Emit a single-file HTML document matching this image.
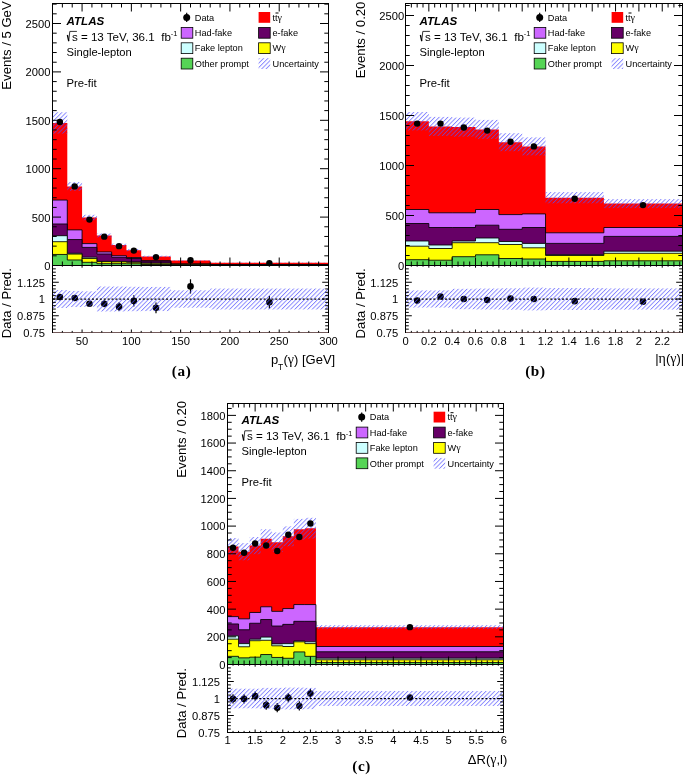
<!DOCTYPE html>
<html><head><meta charset="utf-8"><title>ATLAS ttgamma</title>
<style>
html,body{margin:0;padding:0;background:#fff;}
body{width:685px;height:775px;overflow:hidden;font-family:"Liberation Sans",sans-serif;}
svg{display:block;will-change:transform;}
</style></head><body>
<svg width="685" height="775" viewBox="0 0 685 775"><defs>
<pattern id="hatch" patternUnits="userSpaceOnUse" width="3.07" height="3.07" patternTransform="rotate(45)">
<line x1="0.5" y1="0" x2="0.5" y2="3.07" stroke="#5050ff" stroke-width="0.65"/>
</pattern>
</defs>
<path d="M52.5,265.5 L52.5,122.91 L67.29,122.91 L67.29,186.41 L82.07,186.41 L82.07,217.49 L96.86,217.49 L96.86,235.4 L111.64,235.4 L111.64,245.08 L126.43,245.08 L126.43,250.21 L141.21,250.21 L141.21,256.4 L170.79,256.4 L170.79,260.56 L210.21,260.56 L210.21,262.79 L328.5,262.79 L328.5,265.5Z" fill="#ff0000" stroke="none"/>
<path d="M52.5,265.5 L52.5,200.06 L67.29,200.06 L67.29,229.88 L82.07,229.88 L82.07,243.62 L96.86,243.62 L96.86,251.95 L111.64,251.95 L111.64,255.72 L126.43,255.72 L126.43,257.56 L141.21,257.56 L141.21,260.76 L170.79,260.76 L170.79,263.95 L210.21,263.95 L210.21,264.73 L328.5,264.73 L328.5,265.5Z" fill="#cc66ff" stroke="none"/>
<path d="M52.5,265.5 L52.5,200.06 L67.29,200.06 L67.29,229.88 L82.07,229.88 L82.07,243.62 L96.86,243.62 L96.86,251.95 L111.64,251.95 L111.64,255.72 L126.43,255.72 L126.43,257.56 L141.21,257.56 L141.21,260.76 L170.79,260.76 L170.79,263.95 L210.21,263.95 L210.21,264.73 L328.5,264.73 L328.5,265.5" fill="none" stroke="#000" stroke-width="0.85"/>
<path d="M52.5,265.5 L52.5,223.97 L67.29,223.97 L67.29,239.56 L82.07,239.56 L82.07,247.4 L96.86,247.4 L96.86,253.98 L111.64,253.98 L111.64,257.27 L126.43,257.27 L126.43,258.53 L141.21,258.53 L141.21,261.05 L170.79,261.05 L170.79,264.14 L210.21,264.14 L210.21,264.82 L328.5,264.82 L328.5,265.5Z" fill="#660066" stroke="none"/>
<path d="M52.5,265.5 L52.5,223.97 L67.29,223.97 L67.29,239.56 L82.07,239.56 L82.07,247.4 L96.86,247.4 L96.86,253.98 L111.64,253.98 L111.64,257.27 L126.43,257.27 L126.43,258.53 L141.21,258.53 L141.21,261.05 L170.79,261.05 L170.79,264.14 L210.21,264.14 L210.21,264.82 L328.5,264.82 L328.5,265.5" fill="none" stroke="#000" stroke-width="0.85"/>
<path d="M52.5,265.5 L52.5,235.69 L67.29,235.69 L67.29,253.3 L82.07,253.3 L82.07,257.18 L96.86,257.18 L96.86,261.34 L111.64,261.34 L111.64,261.53 L126.43,261.53 L126.43,262.02 L141.21,262.02 L141.21,263.08 L170.79,263.08 L170.79,264.73 L210.21,264.73 L210.21,265.11 L328.5,265.11 L328.5,265.5Z" fill="#ccffff" stroke="none"/>
<path d="M52.5,265.5 L52.5,235.69 L67.29,235.69 L67.29,253.3 L82.07,253.3 L82.07,257.18 L96.86,257.18 L96.86,261.34 L111.64,261.34 L111.64,261.53 L126.43,261.53 L126.43,262.02 L141.21,262.02 L141.21,263.08 L170.79,263.08 L170.79,264.73 L210.21,264.73 L210.21,265.11 L328.5,265.11 L328.5,265.5" fill="none" stroke="#000" stroke-width="0.85"/>
<path d="M52.5,265.5 L52.5,241.69 L67.29,241.69 L67.29,254.08 L82.07,254.08 L82.07,258.53 L96.86,258.53 L96.86,261.63 L111.64,261.63 L111.64,261.82 L126.43,261.82 L126.43,262.31 L141.21,262.31 L141.21,263.27 L170.79,263.27 L170.79,264.82 L210.21,264.82 L210.21,265.21 L328.5,265.21 L328.5,265.5Z" fill="#ffff00" stroke="none"/>
<path d="M52.5,265.5 L52.5,241.69 L67.29,241.69 L67.29,254.08 L82.07,254.08 L82.07,258.53 L96.86,258.53 L96.86,261.63 L111.64,261.63 L111.64,261.82 L126.43,261.82 L126.43,262.31 L141.21,262.31 L141.21,263.27 L170.79,263.27 L170.79,264.82 L210.21,264.82 L210.21,265.21 L328.5,265.21 L328.5,265.5" fill="none" stroke="#000" stroke-width="0.85"/>
<path d="M52.5,265.5 L52.5,254.46 L67.29,254.46 L67.29,259.98 L82.07,259.98 L82.07,262.31 L96.86,262.31 L96.86,263.66 L111.64,263.66 L111.64,263.66 L126.43,263.66 L126.43,263.76 L141.21,263.76 L141.21,264.53 L170.79,264.53 L170.79,265.21 L210.21,265.21 L210.21,265.4 L328.5,265.4 L328.5,265.5Z" fill="#55d455" stroke="none"/>
<path d="M52.5,265.5 L52.5,254.46 L67.29,254.46 L67.29,259.98 L82.07,259.98 L82.07,262.31 L96.86,262.31 L96.86,263.66 L111.64,263.66 L111.64,263.66 L126.43,263.66 L126.43,263.76 L141.21,263.76 L141.21,264.53 L170.79,264.53 L170.79,265.21 L210.21,265.21 L210.21,265.4 L328.5,265.4 L328.5,265.5" fill="none" stroke="#000" stroke-width="0.85"/>
<rect x="52.5" y="112.27" width="14.79" height="21.3" fill="url(#hatch)"/>
<rect x="67.29" y="182.06" width="14.79" height="8.71" fill="url(#hatch)"/>
<rect x="82.07" y="214.78" width="14.79" height="5.42" fill="url(#hatch)"/>
<rect x="96.86" y="233.46" width="14.79" height="3.87" fill="url(#hatch)"/>
<rect x="111.64" y="243.62" width="14.79" height="2.9" fill="url(#hatch)"/>
<rect x="126.43" y="249.04" width="14.79" height="2.32" fill="url(#hatch)"/>
<rect x="141.21" y="255.72" width="29.57" height="1.36" fill="url(#hatch)"/>
<rect x="170.79" y="260.18" width="39.43" height="0.77" fill="url(#hatch)"/>
<rect x="210.21" y="262.6" width="118.29" height="0.39" fill="url(#hatch)"/>
<circle cx="59.89" cy="122.04" r="3.2" fill="#000"/>
<circle cx="74.68" cy="186.41" r="3.2" fill="#000"/>
<circle cx="89.46" cy="219.62" r="3.2" fill="#000"/>
<circle cx="104.25" cy="236.65" r="3.2" fill="#000"/>
<circle cx="119.04" cy="246.14" r="3.2" fill="#000"/>
<circle cx="133.82" cy="250.59" r="3.2" fill="#000"/>
<circle cx="156" cy="257.08" r="3.2" fill="#000"/>
<circle cx="190.5" cy="260.27" r="3.2" fill="#000"/>
<circle cx="269.36" cy="263.08" r="3.2" fill="#000"/>
<line x1="59.89" y1="295.52" x2="59.89" y2="298.73" stroke="#000" stroke-width="1.2"/>
<circle cx="59.89" cy="297.12" r="3.3" fill="#000"/>
<line x1="74.68" y1="295.92" x2="74.68" y2="300.21" stroke="#000" stroke-width="1.2"/>
<circle cx="74.68" cy="298.06" r="3.3" fill="#000"/>
<line x1="89.46" y1="301.14" x2="89.46" y2="306.5" stroke="#000" stroke-width="1.2"/>
<circle cx="89.46" cy="303.82" r="3.3" fill="#000"/>
<line x1="104.25" y1="300.34" x2="104.25" y2="307.31" stroke="#000" stroke-width="1.2"/>
<circle cx="104.25" cy="303.82" r="3.3" fill="#000"/>
<line x1="119.04" y1="302.35" x2="119.04" y2="310.93" stroke="#000" stroke-width="1.2"/>
<circle cx="119.04" cy="306.64" r="3.3" fill="#000"/>
<line x1="133.82" y1="295.25" x2="133.82" y2="306.5" stroke="#000" stroke-width="1.2"/>
<circle cx="133.82" cy="300.88" r="3.3" fill="#000"/>
<line x1="156" y1="302.48" x2="156" y2="313.2" stroke="#000" stroke-width="1.2"/>
<circle cx="156" cy="307.84" r="3.3" fill="#000"/>
<line x1="190.5" y1="279.3" x2="190.5" y2="293.51" stroke="#000" stroke-width="1.2"/>
<circle cx="190.5" cy="286.4" r="3.3" fill="#000"/>
<line x1="269.36" y1="296.05" x2="269.36" y2="308.38" stroke="#000" stroke-width="1.2"/>
<circle cx="269.36" cy="302.22" r="3.3" fill="#000"/>
<rect x="52.5" y="290.02" width="14.79" height="17.96" fill="url(#hatch)"/>
<rect x="67.29" y="290.96" width="14.79" height="16.08" fill="url(#hatch)"/>
<rect x="82.07" y="291.36" width="14.79" height="15.28" fill="url(#hatch)"/>
<rect x="96.86" y="286.54" width="14.79" height="24.92" fill="url(#hatch)"/>
<rect x="111.64" y="286.54" width="14.79" height="24.92" fill="url(#hatch)"/>
<rect x="126.43" y="286.81" width="14.79" height="24.39" fill="url(#hatch)"/>
<rect x="141.21" y="286.94" width="29.57" height="24.12" fill="url(#hatch)"/>
<rect x="170.79" y="290.29" width="39.43" height="17.42" fill="url(#hatch)"/>
<rect x="210.21" y="288.55" width="118.29" height="20.9" fill="url(#hatch)"/>
<rect x="52.5" y="3.5" width="276" height="262" fill="none" stroke="#000" stroke-width="1"/>
<rect x="52.5" y="265.5" width="276" height="67" fill="none" stroke="#000" stroke-width="1"/>
<line x1="53" y1="332.5" x2="328" y2="332.5" stroke="#735a5a" stroke-width="1"/>
<line x1="62.36" y1="3.5" x2="62.36" y2="7.5" stroke="#000" stroke-width="1"/>
<line x1="62.36" y1="265.5" x2="62.36" y2="261.5" stroke="#000" stroke-width="1"/>
<line x1="62.36" y1="332.5" x2="62.36" y2="330.9" stroke="#000" stroke-width="1"/>
<line x1="62.36" y1="265.5" x2="62.36" y2="266.7" stroke="#000" stroke-width="1"/>
<line x1="72.21" y1="3.5" x2="72.21" y2="7.5" stroke="#000" stroke-width="1"/>
<line x1="72.21" y1="265.5" x2="72.21" y2="261.5" stroke="#000" stroke-width="1"/>
<line x1="72.21" y1="332.5" x2="72.21" y2="330.9" stroke="#000" stroke-width="1"/>
<line x1="72.21" y1="265.5" x2="72.21" y2="266.7" stroke="#000" stroke-width="1"/>
<line x1="82.07" y1="3.5" x2="82.07" y2="11.5" stroke="#000" stroke-width="1"/>
<line x1="82.07" y1="265.5" x2="82.07" y2="257.5" stroke="#000" stroke-width="1"/>
<line x1="82.07" y1="332.5" x2="82.07" y2="329.5" stroke="#000" stroke-width="1"/>
<line x1="82.07" y1="265.5" x2="82.07" y2="267.7" stroke="#000" stroke-width="1"/>
<line x1="91.93" y1="3.5" x2="91.93" y2="7.5" stroke="#000" stroke-width="1"/>
<line x1="91.93" y1="265.5" x2="91.93" y2="261.5" stroke="#000" stroke-width="1"/>
<line x1="91.93" y1="332.5" x2="91.93" y2="330.9" stroke="#000" stroke-width="1"/>
<line x1="91.93" y1="265.5" x2="91.93" y2="266.7" stroke="#000" stroke-width="1"/>
<line x1="101.79" y1="3.5" x2="101.79" y2="7.5" stroke="#000" stroke-width="1"/>
<line x1="101.79" y1="265.5" x2="101.79" y2="261.5" stroke="#000" stroke-width="1"/>
<line x1="101.79" y1="332.5" x2="101.79" y2="330.9" stroke="#000" stroke-width="1"/>
<line x1="101.79" y1="265.5" x2="101.79" y2="266.7" stroke="#000" stroke-width="1"/>
<line x1="111.64" y1="3.5" x2="111.64" y2="7.5" stroke="#000" stroke-width="1"/>
<line x1="111.64" y1="265.5" x2="111.64" y2="261.5" stroke="#000" stroke-width="1"/>
<line x1="111.64" y1="332.5" x2="111.64" y2="330.9" stroke="#000" stroke-width="1"/>
<line x1="111.64" y1="265.5" x2="111.64" y2="266.7" stroke="#000" stroke-width="1"/>
<line x1="121.5" y1="3.5" x2="121.5" y2="7.5" stroke="#000" stroke-width="1"/>
<line x1="121.5" y1="265.5" x2="121.5" y2="261.5" stroke="#000" stroke-width="1"/>
<line x1="121.5" y1="332.5" x2="121.5" y2="330.9" stroke="#000" stroke-width="1"/>
<line x1="121.5" y1="265.5" x2="121.5" y2="266.7" stroke="#000" stroke-width="1"/>
<line x1="131.36" y1="3.5" x2="131.36" y2="11.5" stroke="#000" stroke-width="1"/>
<line x1="131.36" y1="265.5" x2="131.36" y2="257.5" stroke="#000" stroke-width="1"/>
<line x1="131.36" y1="332.5" x2="131.36" y2="329.5" stroke="#000" stroke-width="1"/>
<line x1="131.36" y1="265.5" x2="131.36" y2="267.7" stroke="#000" stroke-width="1"/>
<line x1="141.21" y1="3.5" x2="141.21" y2="7.5" stroke="#000" stroke-width="1"/>
<line x1="141.21" y1="265.5" x2="141.21" y2="261.5" stroke="#000" stroke-width="1"/>
<line x1="141.21" y1="332.5" x2="141.21" y2="330.9" stroke="#000" stroke-width="1"/>
<line x1="141.21" y1="265.5" x2="141.21" y2="266.7" stroke="#000" stroke-width="1"/>
<line x1="151.07" y1="3.5" x2="151.07" y2="7.5" stroke="#000" stroke-width="1"/>
<line x1="151.07" y1="265.5" x2="151.07" y2="261.5" stroke="#000" stroke-width="1"/>
<line x1="151.07" y1="332.5" x2="151.07" y2="330.9" stroke="#000" stroke-width="1"/>
<line x1="151.07" y1="265.5" x2="151.07" y2="266.7" stroke="#000" stroke-width="1"/>
<line x1="160.93" y1="3.5" x2="160.93" y2="7.5" stroke="#000" stroke-width="1"/>
<line x1="160.93" y1="265.5" x2="160.93" y2="261.5" stroke="#000" stroke-width="1"/>
<line x1="160.93" y1="332.5" x2="160.93" y2="330.9" stroke="#000" stroke-width="1"/>
<line x1="160.93" y1="265.5" x2="160.93" y2="266.7" stroke="#000" stroke-width="1"/>
<line x1="170.79" y1="3.5" x2="170.79" y2="7.5" stroke="#000" stroke-width="1"/>
<line x1="170.79" y1="265.5" x2="170.79" y2="261.5" stroke="#000" stroke-width="1"/>
<line x1="170.79" y1="332.5" x2="170.79" y2="330.9" stroke="#000" stroke-width="1"/>
<line x1="170.79" y1="265.5" x2="170.79" y2="266.7" stroke="#000" stroke-width="1"/>
<line x1="180.64" y1="3.5" x2="180.64" y2="11.5" stroke="#000" stroke-width="1"/>
<line x1="180.64" y1="265.5" x2="180.64" y2="257.5" stroke="#000" stroke-width="1"/>
<line x1="180.64" y1="332.5" x2="180.64" y2="329.5" stroke="#000" stroke-width="1"/>
<line x1="180.64" y1="265.5" x2="180.64" y2="267.7" stroke="#000" stroke-width="1"/>
<line x1="190.5" y1="3.5" x2="190.5" y2="7.5" stroke="#000" stroke-width="1"/>
<line x1="190.5" y1="265.5" x2="190.5" y2="261.5" stroke="#000" stroke-width="1"/>
<line x1="190.5" y1="332.5" x2="190.5" y2="330.9" stroke="#000" stroke-width="1"/>
<line x1="190.5" y1="265.5" x2="190.5" y2="266.7" stroke="#000" stroke-width="1"/>
<line x1="200.36" y1="3.5" x2="200.36" y2="7.5" stroke="#000" stroke-width="1"/>
<line x1="200.36" y1="265.5" x2="200.36" y2="261.5" stroke="#000" stroke-width="1"/>
<line x1="200.36" y1="332.5" x2="200.36" y2="330.9" stroke="#000" stroke-width="1"/>
<line x1="200.36" y1="265.5" x2="200.36" y2="266.7" stroke="#000" stroke-width="1"/>
<line x1="210.21" y1="3.5" x2="210.21" y2="7.5" stroke="#000" stroke-width="1"/>
<line x1="210.21" y1="265.5" x2="210.21" y2="261.5" stroke="#000" stroke-width="1"/>
<line x1="210.21" y1="332.5" x2="210.21" y2="330.9" stroke="#000" stroke-width="1"/>
<line x1="210.21" y1="265.5" x2="210.21" y2="266.7" stroke="#000" stroke-width="1"/>
<line x1="220.07" y1="3.5" x2="220.07" y2="7.5" stroke="#000" stroke-width="1"/>
<line x1="220.07" y1="265.5" x2="220.07" y2="261.5" stroke="#000" stroke-width="1"/>
<line x1="220.07" y1="332.5" x2="220.07" y2="330.9" stroke="#000" stroke-width="1"/>
<line x1="220.07" y1="265.5" x2="220.07" y2="266.7" stroke="#000" stroke-width="1"/>
<line x1="229.93" y1="3.5" x2="229.93" y2="11.5" stroke="#000" stroke-width="1"/>
<line x1="229.93" y1="265.5" x2="229.93" y2="257.5" stroke="#000" stroke-width="1"/>
<line x1="229.93" y1="332.5" x2="229.93" y2="329.5" stroke="#000" stroke-width="1"/>
<line x1="229.93" y1="265.5" x2="229.93" y2="267.7" stroke="#000" stroke-width="1"/>
<line x1="239.79" y1="3.5" x2="239.79" y2="7.5" stroke="#000" stroke-width="1"/>
<line x1="239.79" y1="265.5" x2="239.79" y2="261.5" stroke="#000" stroke-width="1"/>
<line x1="239.79" y1="332.5" x2="239.79" y2="330.9" stroke="#000" stroke-width="1"/>
<line x1="239.79" y1="265.5" x2="239.79" y2="266.7" stroke="#000" stroke-width="1"/>
<line x1="249.64" y1="3.5" x2="249.64" y2="7.5" stroke="#000" stroke-width="1"/>
<line x1="249.64" y1="265.5" x2="249.64" y2="261.5" stroke="#000" stroke-width="1"/>
<line x1="249.64" y1="332.5" x2="249.64" y2="330.9" stroke="#000" stroke-width="1"/>
<line x1="249.64" y1="265.5" x2="249.64" y2="266.7" stroke="#000" stroke-width="1"/>
<line x1="259.5" y1="3.5" x2="259.5" y2="7.5" stroke="#000" stroke-width="1"/>
<line x1="259.5" y1="265.5" x2="259.5" y2="261.5" stroke="#000" stroke-width="1"/>
<line x1="259.5" y1="332.5" x2="259.5" y2="330.9" stroke="#000" stroke-width="1"/>
<line x1="259.5" y1="265.5" x2="259.5" y2="266.7" stroke="#000" stroke-width="1"/>
<line x1="269.36" y1="3.5" x2="269.36" y2="7.5" stroke="#000" stroke-width="1"/>
<line x1="269.36" y1="265.5" x2="269.36" y2="261.5" stroke="#000" stroke-width="1"/>
<line x1="269.36" y1="332.5" x2="269.36" y2="330.9" stroke="#000" stroke-width="1"/>
<line x1="269.36" y1="265.5" x2="269.36" y2="266.7" stroke="#000" stroke-width="1"/>
<line x1="279.21" y1="3.5" x2="279.21" y2="11.5" stroke="#000" stroke-width="1"/>
<line x1="279.21" y1="265.5" x2="279.21" y2="257.5" stroke="#000" stroke-width="1"/>
<line x1="279.21" y1="332.5" x2="279.21" y2="329.5" stroke="#000" stroke-width="1"/>
<line x1="279.21" y1="265.5" x2="279.21" y2="267.7" stroke="#000" stroke-width="1"/>
<line x1="289.07" y1="3.5" x2="289.07" y2="7.5" stroke="#000" stroke-width="1"/>
<line x1="289.07" y1="265.5" x2="289.07" y2="261.5" stroke="#000" stroke-width="1"/>
<line x1="289.07" y1="332.5" x2="289.07" y2="330.9" stroke="#000" stroke-width="1"/>
<line x1="289.07" y1="265.5" x2="289.07" y2="266.7" stroke="#000" stroke-width="1"/>
<line x1="298.93" y1="3.5" x2="298.93" y2="7.5" stroke="#000" stroke-width="1"/>
<line x1="298.93" y1="265.5" x2="298.93" y2="261.5" stroke="#000" stroke-width="1"/>
<line x1="298.93" y1="332.5" x2="298.93" y2="330.9" stroke="#000" stroke-width="1"/>
<line x1="298.93" y1="265.5" x2="298.93" y2="266.7" stroke="#000" stroke-width="1"/>
<line x1="308.79" y1="3.5" x2="308.79" y2="7.5" stroke="#000" stroke-width="1"/>
<line x1="308.79" y1="265.5" x2="308.79" y2="261.5" stroke="#000" stroke-width="1"/>
<line x1="308.79" y1="332.5" x2="308.79" y2="330.9" stroke="#000" stroke-width="1"/>
<line x1="308.79" y1="265.5" x2="308.79" y2="266.7" stroke="#000" stroke-width="1"/>
<line x1="318.64" y1="3.5" x2="318.64" y2="7.5" stroke="#000" stroke-width="1"/>
<line x1="318.64" y1="265.5" x2="318.64" y2="261.5" stroke="#000" stroke-width="1"/>
<line x1="318.64" y1="332.5" x2="318.64" y2="330.9" stroke="#000" stroke-width="1"/>
<line x1="318.64" y1="265.5" x2="318.64" y2="266.7" stroke="#000" stroke-width="1"/>
<line x1="52.5" y1="255.82" x2="56.7" y2="255.82" stroke="#000" stroke-width="1"/>
<line x1="328.5" y1="255.82" x2="324.3" y2="255.82" stroke="#000" stroke-width="1"/>
<line x1="52.5" y1="246.14" x2="56.7" y2="246.14" stroke="#000" stroke-width="1"/>
<line x1="328.5" y1="246.14" x2="324.3" y2="246.14" stroke="#000" stroke-width="1"/>
<line x1="52.5" y1="236.46" x2="56.7" y2="236.46" stroke="#000" stroke-width="1"/>
<line x1="328.5" y1="236.46" x2="324.3" y2="236.46" stroke="#000" stroke-width="1"/>
<line x1="52.5" y1="226.78" x2="56.7" y2="226.78" stroke="#000" stroke-width="1"/>
<line x1="328.5" y1="226.78" x2="324.3" y2="226.78" stroke="#000" stroke-width="1"/>
<line x1="52.5" y1="217.1" x2="61" y2="217.1" stroke="#000" stroke-width="1"/>
<line x1="328.5" y1="217.1" x2="320" y2="217.1" stroke="#000" stroke-width="1"/>
<line x1="52.5" y1="207.42" x2="56.7" y2="207.42" stroke="#000" stroke-width="1"/>
<line x1="328.5" y1="207.42" x2="324.3" y2="207.42" stroke="#000" stroke-width="1"/>
<line x1="52.5" y1="197.74" x2="56.7" y2="197.74" stroke="#000" stroke-width="1"/>
<line x1="328.5" y1="197.74" x2="324.3" y2="197.74" stroke="#000" stroke-width="1"/>
<line x1="52.5" y1="188.06" x2="56.7" y2="188.06" stroke="#000" stroke-width="1"/>
<line x1="328.5" y1="188.06" x2="324.3" y2="188.06" stroke="#000" stroke-width="1"/>
<line x1="52.5" y1="178.38" x2="56.7" y2="178.38" stroke="#000" stroke-width="1"/>
<line x1="328.5" y1="178.38" x2="324.3" y2="178.38" stroke="#000" stroke-width="1"/>
<line x1="52.5" y1="168.7" x2="61" y2="168.7" stroke="#000" stroke-width="1"/>
<line x1="328.5" y1="168.7" x2="320" y2="168.7" stroke="#000" stroke-width="1"/>
<line x1="52.5" y1="159.02" x2="56.7" y2="159.02" stroke="#000" stroke-width="1"/>
<line x1="328.5" y1="159.02" x2="324.3" y2="159.02" stroke="#000" stroke-width="1"/>
<line x1="52.5" y1="149.34" x2="56.7" y2="149.34" stroke="#000" stroke-width="1"/>
<line x1="328.5" y1="149.34" x2="324.3" y2="149.34" stroke="#000" stroke-width="1"/>
<line x1="52.5" y1="139.66" x2="56.7" y2="139.66" stroke="#000" stroke-width="1"/>
<line x1="328.5" y1="139.66" x2="324.3" y2="139.66" stroke="#000" stroke-width="1"/>
<line x1="52.5" y1="129.98" x2="56.7" y2="129.98" stroke="#000" stroke-width="1"/>
<line x1="328.5" y1="129.98" x2="324.3" y2="129.98" stroke="#000" stroke-width="1"/>
<line x1="52.5" y1="120.3" x2="61" y2="120.3" stroke="#000" stroke-width="1"/>
<line x1="328.5" y1="120.3" x2="320" y2="120.3" stroke="#000" stroke-width="1"/>
<line x1="52.5" y1="110.62" x2="56.7" y2="110.62" stroke="#000" stroke-width="1"/>
<line x1="328.5" y1="110.62" x2="324.3" y2="110.62" stroke="#000" stroke-width="1"/>
<line x1="52.5" y1="100.94" x2="56.7" y2="100.94" stroke="#000" stroke-width="1"/>
<line x1="328.5" y1="100.94" x2="324.3" y2="100.94" stroke="#000" stroke-width="1"/>
<line x1="52.5" y1="91.26" x2="56.7" y2="91.26" stroke="#000" stroke-width="1"/>
<line x1="328.5" y1="91.26" x2="324.3" y2="91.26" stroke="#000" stroke-width="1"/>
<line x1="52.5" y1="81.58" x2="56.7" y2="81.58" stroke="#000" stroke-width="1"/>
<line x1="328.5" y1="81.58" x2="324.3" y2="81.58" stroke="#000" stroke-width="1"/>
<line x1="52.5" y1="71.9" x2="61" y2="71.9" stroke="#000" stroke-width="1"/>
<line x1="328.5" y1="71.9" x2="320" y2="71.9" stroke="#000" stroke-width="1"/>
<line x1="52.5" y1="62.22" x2="56.7" y2="62.22" stroke="#000" stroke-width="1"/>
<line x1="328.5" y1="62.22" x2="324.3" y2="62.22" stroke="#000" stroke-width="1"/>
<line x1="52.5" y1="52.54" x2="56.7" y2="52.54" stroke="#000" stroke-width="1"/>
<line x1="328.5" y1="52.54" x2="324.3" y2="52.54" stroke="#000" stroke-width="1"/>
<line x1="52.5" y1="42.86" x2="56.7" y2="42.86" stroke="#000" stroke-width="1"/>
<line x1="328.5" y1="42.86" x2="324.3" y2="42.86" stroke="#000" stroke-width="1"/>
<line x1="52.5" y1="33.18" x2="56.7" y2="33.18" stroke="#000" stroke-width="1"/>
<line x1="328.5" y1="33.18" x2="324.3" y2="33.18" stroke="#000" stroke-width="1"/>
<line x1="52.5" y1="23.5" x2="61" y2="23.5" stroke="#000" stroke-width="1"/>
<line x1="328.5" y1="23.5" x2="320" y2="23.5" stroke="#000" stroke-width="1"/>
<line x1="52.5" y1="13.82" x2="56.7" y2="13.82" stroke="#000" stroke-width="1"/>
<line x1="328.5" y1="13.82" x2="324.3" y2="13.82" stroke="#000" stroke-width="1"/>
<line x1="52.5" y1="4.14" x2="56.7" y2="4.14" stroke="#000" stroke-width="1"/>
<line x1="328.5" y1="4.14" x2="324.3" y2="4.14" stroke="#000" stroke-width="1"/>
<line x1="52.5" y1="329.15" x2="55.8" y2="329.15" stroke="#000" stroke-width="1"/>
<line x1="328.5" y1="329.15" x2="325.2" y2="329.15" stroke="#000" stroke-width="1"/>
<line x1="52.5" y1="325.8" x2="55.8" y2="325.8" stroke="#000" stroke-width="1"/>
<line x1="328.5" y1="325.8" x2="325.2" y2="325.8" stroke="#000" stroke-width="1"/>
<line x1="52.5" y1="322.45" x2="55.8" y2="322.45" stroke="#000" stroke-width="1"/>
<line x1="328.5" y1="322.45" x2="325.2" y2="322.45" stroke="#000" stroke-width="1"/>
<line x1="52.5" y1="319.1" x2="55.8" y2="319.1" stroke="#000" stroke-width="1"/>
<line x1="328.5" y1="319.1" x2="325.2" y2="319.1" stroke="#000" stroke-width="1"/>
<line x1="52.5" y1="315.75" x2="58.8" y2="315.75" stroke="#000" stroke-width="1"/>
<line x1="328.5" y1="315.75" x2="322.2" y2="315.75" stroke="#000" stroke-width="1"/>
<line x1="52.5" y1="312.4" x2="55.8" y2="312.4" stroke="#000" stroke-width="1"/>
<line x1="328.5" y1="312.4" x2="325.2" y2="312.4" stroke="#000" stroke-width="1"/>
<line x1="52.5" y1="309.05" x2="55.8" y2="309.05" stroke="#000" stroke-width="1"/>
<line x1="328.5" y1="309.05" x2="325.2" y2="309.05" stroke="#000" stroke-width="1"/>
<line x1="52.5" y1="305.7" x2="55.8" y2="305.7" stroke="#000" stroke-width="1"/>
<line x1="328.5" y1="305.7" x2="325.2" y2="305.7" stroke="#000" stroke-width="1"/>
<line x1="52.5" y1="302.35" x2="55.8" y2="302.35" stroke="#000" stroke-width="1"/>
<line x1="328.5" y1="302.35" x2="325.2" y2="302.35" stroke="#000" stroke-width="1"/>
<line x1="52.5" y1="299" x2="58.8" y2="299" stroke="#000" stroke-width="1"/>
<line x1="328.5" y1="299" x2="322.2" y2="299" stroke="#000" stroke-width="1"/>
<line x1="52.5" y1="295.65" x2="55.8" y2="295.65" stroke="#000" stroke-width="1"/>
<line x1="328.5" y1="295.65" x2="325.2" y2="295.65" stroke="#000" stroke-width="1"/>
<line x1="52.5" y1="292.3" x2="55.8" y2="292.3" stroke="#000" stroke-width="1"/>
<line x1="328.5" y1="292.3" x2="325.2" y2="292.3" stroke="#000" stroke-width="1"/>
<line x1="52.5" y1="288.95" x2="55.8" y2="288.95" stroke="#000" stroke-width="1"/>
<line x1="328.5" y1="288.95" x2="325.2" y2="288.95" stroke="#000" stroke-width="1"/>
<line x1="52.5" y1="285.6" x2="55.8" y2="285.6" stroke="#000" stroke-width="1"/>
<line x1="328.5" y1="285.6" x2="325.2" y2="285.6" stroke="#000" stroke-width="1"/>
<line x1="52.5" y1="282.25" x2="58.8" y2="282.25" stroke="#000" stroke-width="1"/>
<line x1="328.5" y1="282.25" x2="322.2" y2="282.25" stroke="#000" stroke-width="1"/>
<line x1="52.5" y1="278.9" x2="55.8" y2="278.9" stroke="#000" stroke-width="1"/>
<line x1="328.5" y1="278.9" x2="325.2" y2="278.9" stroke="#000" stroke-width="1"/>
<line x1="52.5" y1="275.55" x2="55.8" y2="275.55" stroke="#000" stroke-width="1"/>
<line x1="328.5" y1="275.55" x2="325.2" y2="275.55" stroke="#000" stroke-width="1"/>
<line x1="52.5" y1="272.2" x2="55.8" y2="272.2" stroke="#000" stroke-width="1"/>
<line x1="328.5" y1="272.2" x2="325.2" y2="272.2" stroke="#000" stroke-width="1"/>
<line x1="52.5" y1="268.85" x2="55.8" y2="268.85" stroke="#000" stroke-width="1"/>
<line x1="328.5" y1="268.85" x2="325.2" y2="268.85" stroke="#000" stroke-width="1"/>
<text x="82.07" y="345" font-size="11.2" text-anchor="middle" font-weight="normal" font-style="normal" font-family='"Liberation Sans", sans-serif'>50</text>
<text x="131.36" y="345" font-size="11.2" text-anchor="middle" font-weight="normal" font-style="normal" font-family='"Liberation Sans", sans-serif'>100</text>
<text x="180.64" y="345" font-size="11.2" text-anchor="middle" font-weight="normal" font-style="normal" font-family='"Liberation Sans", sans-serif'>150</text>
<text x="229.93" y="345" font-size="11.2" text-anchor="middle" font-weight="normal" font-style="normal" font-family='"Liberation Sans", sans-serif'>200</text>
<text x="279.21" y="345" font-size="11.2" text-anchor="middle" font-weight="normal" font-style="normal" font-family='"Liberation Sans", sans-serif'>250</text>
<text x="328.5" y="345" font-size="11.2" text-anchor="middle" font-weight="normal" font-style="normal" font-family='"Liberation Sans", sans-serif'>300</text>
<text x="50.5" y="270" font-size="11.2" text-anchor="end" font-weight="normal" font-style="normal" font-family='"Liberation Sans", sans-serif'>0</text>
<text x="50.5" y="222" font-size="11.2" text-anchor="end" font-weight="normal" font-style="normal" font-family='"Liberation Sans", sans-serif'>500</text>
<text x="50.5" y="173" font-size="11.2" text-anchor="end" font-weight="normal" font-style="normal" font-family='"Liberation Sans", sans-serif'>1000</text>
<text x="50.5" y="125" font-size="11.2" text-anchor="end" font-weight="normal" font-style="normal" font-family='"Liberation Sans", sans-serif'>1500</text>
<text x="50.5" y="76" font-size="11.2" text-anchor="end" font-weight="normal" font-style="normal" font-family='"Liberation Sans", sans-serif'>2000</text>
<text x="50.5" y="28" font-size="11.2" text-anchor="end" font-weight="normal" font-style="normal" font-family='"Liberation Sans", sans-serif'>2500</text>
<text x="45" y="337" font-size="11.2" text-anchor="end" font-weight="normal" font-style="normal" font-family='"Liberation Sans", sans-serif'>0.75</text>
<text x="45" y="320" font-size="11.2" text-anchor="end" font-weight="normal" font-style="normal" font-family='"Liberation Sans", sans-serif'>0.875</text>
<text x="45" y="303" font-size="11.2" text-anchor="end" font-weight="normal" font-style="normal" font-family='"Liberation Sans", sans-serif'>1</text>
<text x="45" y="287" font-size="11.2" text-anchor="end" font-weight="normal" font-style="normal" font-family='"Liberation Sans", sans-serif'>1.125</text>
<line x1="53" y1="299" x2="328" y2="299" stroke="#000" stroke-width="1.25" stroke-dasharray="2,1.9"/>
<path d="M405.5,265.5 L405.5,121.2 L428.84,121.2 L428.84,126.4 L452.18,126.4 L452.18,127.1 L475.52,127.1 L475.52,129.4 L498.86,129.4 L498.86,142.2 L522.2,142.2 L522.2,146.4 L545.54,146.4 L545.54,197.7 L603.89,197.7 L603.89,203.6 L682.5,203.6 L682.5,265.5Z" fill="#ff0000" stroke="none"/>
<path d="M405.5,265.5 L405.5,209.5 L428.84,209.5 L428.84,212.8 L452.18,212.8 L452.18,212.8 L475.52,212.8 L475.52,209.5 L498.86,209.5 L498.86,214.6 L522.2,214.6 L522.2,213.9 L545.54,213.9 L545.54,232.8 L603.89,232.8 L603.89,227.5 L682.5,227.5 L682.5,265.5Z" fill="#cc66ff" stroke="none"/>
<path d="M405.5,265.5 L405.5,209.5 L428.84,209.5 L428.84,212.8 L452.18,212.8 L452.18,212.8 L475.52,212.8 L475.52,209.5 L498.86,209.5 L498.86,214.6 L522.2,214.6 L522.2,213.9 L545.54,213.9 L545.54,232.8 L603.89,232.8 L603.89,227.5 L682.5,227.5 L682.5,265.5" fill="none" stroke="#000" stroke-width="0.85"/>
<path d="M405.5,265.5 L405.5,223.5 L428.84,223.5 L428.84,227.5 L452.18,227.5 L452.18,227.5 L475.52,227.5 L475.52,225.2 L498.86,225.2 L498.86,229.3 L522.2,229.3 L522.2,227.5 L545.54,227.5 L545.54,243.4 L603.89,243.4 L603.89,236.4 L682.5,236.4 L682.5,265.5Z" fill="#660066" stroke="none"/>
<path d="M405.5,265.5 L405.5,223.5 L428.84,223.5 L428.84,227.5 L452.18,227.5 L452.18,227.5 L475.52,227.5 L475.52,225.2 L498.86,225.2 L498.86,229.3 L522.2,229.3 L522.2,227.5 L545.54,227.5 L545.54,243.4 L603.89,243.4 L603.89,236.4 L682.5,236.4 L682.5,265.5" fill="none" stroke="#000" stroke-width="0.85"/>
<path d="M405.5,265.5 L405.5,241 L428.84,241 L428.84,245 L452.18,245 L452.18,241 L475.52,241 L475.52,238 L498.86,238 L498.86,241.5 L522.2,241.5 L522.2,243.4 L545.54,243.4 L545.54,254.7 L603.89,254.7 L603.89,251.2 L682.5,251.2 L682.5,265.5Z" fill="#ccffff" stroke="none"/>
<path d="M405.5,265.5 L405.5,241 L428.84,241 L428.84,245 L452.18,245 L452.18,241 L475.52,241 L475.52,238 L498.86,238 L498.86,241.5 L522.2,241.5 L522.2,243.4 L545.54,243.4 L545.54,254.7 L603.89,254.7 L603.89,251.2 L682.5,251.2 L682.5,265.5" fill="none" stroke="#000" stroke-width="0.85"/>
<path d="M405.5,265.5 L405.5,246.2 L428.84,246.2 L428.84,248.5 L452.18,248.5 L452.18,242.7 L475.52,242.7 L475.52,242.7 L498.86,242.7 L498.86,244.5 L522.2,244.5 L522.2,247.8 L545.54,247.8 L545.54,255.5 L603.89,255.5 L603.89,253.3 L682.5,253.3 L682.5,265.5Z" fill="#ffff00" stroke="none"/>
<path d="M405.5,265.5 L405.5,246.2 L428.84,246.2 L428.84,248.5 L452.18,248.5 L452.18,242.7 L475.52,242.7 L475.52,242.7 L498.86,242.7 L498.86,244.5 L522.2,244.5 L522.2,247.8 L545.54,247.8 L545.54,255.5 L603.89,255.5 L603.89,253.3 L682.5,253.3 L682.5,265.5" fill="none" stroke="#000" stroke-width="0.85"/>
<path d="M405.5,265.5 L405.5,259.7 L428.84,259.7 L428.84,260.2 L452.18,260.2 L452.18,256.7 L475.52,256.7 L475.52,254.8 L498.86,254.8 L498.86,258.5 L522.2,258.5 L522.2,259 L545.54,259 L545.54,261.4 L603.89,261.4 L603.89,260.8 L682.5,260.8 L682.5,265.5Z" fill="#55d455" stroke="none"/>
<path d="M405.5,265.5 L405.5,259.7 L428.84,259.7 L428.84,260.2 L452.18,260.2 L452.18,256.7 L475.52,256.7 L475.52,254.8 L498.86,254.8 L498.86,258.5 L522.2,258.5 L522.2,259 L545.54,259 L545.54,261.4 L603.89,261.4 L603.89,260.8 L682.5,260.8 L682.5,265.5" fill="none" stroke="#000" stroke-width="0.85"/>
<rect x="405.5" y="112" width="23.34" height="18.4" fill="url(#hatch)"/>
<rect x="428.84" y="116.9" width="23.34" height="19" fill="url(#hatch)"/>
<rect x="452.18" y="117.6" width="23.34" height="19" fill="url(#hatch)"/>
<rect x="475.52" y="119.9" width="23.34" height="19" fill="url(#hatch)"/>
<rect x="498.86" y="133.2" width="23.34" height="18" fill="url(#hatch)"/>
<rect x="522.2" y="137.4" width="23.34" height="18" fill="url(#hatch)"/>
<rect x="545.54" y="192.1" width="58.35" height="11.2" fill="url(#hatch)"/>
<rect x="603.89" y="199.1" width="78.61" height="9" fill="url(#hatch)"/>
<circle cx="417.17" cy="123.6" r="3.2" fill="#000"/>
<circle cx="440.51" cy="123.6" r="3.2" fill="#000"/>
<circle cx="463.85" cy="127.5" r="3.2" fill="#000"/>
<circle cx="487.19" cy="130.6" r="3.2" fill="#000"/>
<circle cx="510.53" cy="141.8" r="3.2" fill="#000"/>
<circle cx="533.87" cy="146.4" r="3.2" fill="#000"/>
<circle cx="574.72" cy="198.7" r="3.2" fill="#000"/>
<circle cx="642.99" cy="205.1" r="3.2" fill="#000"/>
<line x1="417.17" y1="298.73" x2="417.17" y2="302.48" stroke="#000" stroke-width="1.2"/>
<circle cx="417.17" cy="300.61" r="3.3" fill="#000"/>
<line x1="440.51" y1="294.58" x2="440.51" y2="298.33" stroke="#000" stroke-width="1.2"/>
<circle cx="440.51" cy="296.45" r="3.3" fill="#000"/>
<line x1="463.85" y1="297.12" x2="463.85" y2="300.88" stroke="#000" stroke-width="1.2"/>
<circle cx="463.85" cy="299" r="3.3" fill="#000"/>
<line x1="487.19" y1="298.2" x2="487.19" y2="301.95" stroke="#000" stroke-width="1.2"/>
<circle cx="487.19" cy="300.07" r="3.3" fill="#000"/>
<line x1="510.53" y1="296.72" x2="510.53" y2="300.47" stroke="#000" stroke-width="1.2"/>
<circle cx="510.53" cy="298.6" r="3.3" fill="#000"/>
<line x1="533.87" y1="297.12" x2="533.87" y2="300.88" stroke="#000" stroke-width="1.2"/>
<circle cx="533.87" cy="299" r="3.3" fill="#000"/>
<line x1="574.72" y1="298.46" x2="574.72" y2="303.82" stroke="#000" stroke-width="1.2"/>
<circle cx="574.72" cy="301.14" r="3.3" fill="#000"/>
<line x1="642.99" y1="298.73" x2="642.99" y2="304.63" stroke="#000" stroke-width="1.2"/>
<circle cx="642.99" cy="301.68" r="3.3" fill="#000"/>
<rect x="405.5" y="290.42" width="23.34" height="17.15" fill="url(#hatch)"/>
<rect x="428.84" y="290.42" width="23.34" height="17.15" fill="url(#hatch)"/>
<rect x="452.18" y="288.82" width="23.34" height="20.37" fill="url(#hatch)"/>
<rect x="475.52" y="288.55" width="23.34" height="20.9" fill="url(#hatch)"/>
<rect x="498.86" y="288.28" width="23.34" height="21.44" fill="url(#hatch)"/>
<rect x="522.2" y="287.61" width="23.34" height="22.78" fill="url(#hatch)"/>
<rect x="545.54" y="288.01" width="58.35" height="21.98" fill="url(#hatch)"/>
<rect x="603.89" y="288.41" width="78.61" height="21.17" fill="url(#hatch)"/>
<rect x="405.5" y="3.5" width="277" height="262" fill="none" stroke="#000" stroke-width="1"/>
<rect x="405.5" y="265.5" width="277" height="67" fill="none" stroke="#000" stroke-width="1"/>
<line x1="406" y1="332.5" x2="682" y2="332.5" stroke="#735a5a" stroke-width="1"/>
<line x1="411.34" y1="3.5" x2="411.34" y2="7.5" stroke="#000" stroke-width="1"/>
<line x1="411.34" y1="265.5" x2="411.34" y2="261.5" stroke="#000" stroke-width="1"/>
<line x1="411.34" y1="332.5" x2="411.34" y2="330.9" stroke="#000" stroke-width="1"/>
<line x1="411.34" y1="265.5" x2="411.34" y2="266.7" stroke="#000" stroke-width="1"/>
<line x1="417.17" y1="3.5" x2="417.17" y2="7.5" stroke="#000" stroke-width="1"/>
<line x1="417.17" y1="265.5" x2="417.17" y2="261.5" stroke="#000" stroke-width="1"/>
<line x1="417.17" y1="332.5" x2="417.17" y2="330.9" stroke="#000" stroke-width="1"/>
<line x1="417.17" y1="265.5" x2="417.17" y2="266.7" stroke="#000" stroke-width="1"/>
<line x1="423.01" y1="3.5" x2="423.01" y2="7.5" stroke="#000" stroke-width="1"/>
<line x1="423.01" y1="265.5" x2="423.01" y2="261.5" stroke="#000" stroke-width="1"/>
<line x1="423.01" y1="332.5" x2="423.01" y2="330.9" stroke="#000" stroke-width="1"/>
<line x1="423.01" y1="265.5" x2="423.01" y2="266.7" stroke="#000" stroke-width="1"/>
<line x1="428.84" y1="3.5" x2="428.84" y2="11.5" stroke="#000" stroke-width="1"/>
<line x1="428.84" y1="265.5" x2="428.84" y2="257.5" stroke="#000" stroke-width="1"/>
<line x1="428.84" y1="332.5" x2="428.84" y2="329.5" stroke="#000" stroke-width="1"/>
<line x1="428.84" y1="265.5" x2="428.84" y2="267.7" stroke="#000" stroke-width="1"/>
<line x1="434.68" y1="3.5" x2="434.68" y2="7.5" stroke="#000" stroke-width="1"/>
<line x1="434.68" y1="265.5" x2="434.68" y2="261.5" stroke="#000" stroke-width="1"/>
<line x1="434.68" y1="332.5" x2="434.68" y2="330.9" stroke="#000" stroke-width="1"/>
<line x1="434.68" y1="265.5" x2="434.68" y2="266.7" stroke="#000" stroke-width="1"/>
<line x1="440.51" y1="3.5" x2="440.51" y2="7.5" stroke="#000" stroke-width="1"/>
<line x1="440.51" y1="265.5" x2="440.51" y2="261.5" stroke="#000" stroke-width="1"/>
<line x1="440.51" y1="332.5" x2="440.51" y2="330.9" stroke="#000" stroke-width="1"/>
<line x1="440.51" y1="265.5" x2="440.51" y2="266.7" stroke="#000" stroke-width="1"/>
<line x1="446.35" y1="3.5" x2="446.35" y2="7.5" stroke="#000" stroke-width="1"/>
<line x1="446.35" y1="265.5" x2="446.35" y2="261.5" stroke="#000" stroke-width="1"/>
<line x1="446.35" y1="332.5" x2="446.35" y2="330.9" stroke="#000" stroke-width="1"/>
<line x1="446.35" y1="265.5" x2="446.35" y2="266.7" stroke="#000" stroke-width="1"/>
<line x1="452.18" y1="3.5" x2="452.18" y2="11.5" stroke="#000" stroke-width="1"/>
<line x1="452.18" y1="265.5" x2="452.18" y2="257.5" stroke="#000" stroke-width="1"/>
<line x1="452.18" y1="332.5" x2="452.18" y2="329.5" stroke="#000" stroke-width="1"/>
<line x1="452.18" y1="265.5" x2="452.18" y2="267.7" stroke="#000" stroke-width="1"/>
<line x1="458.02" y1="3.5" x2="458.02" y2="7.5" stroke="#000" stroke-width="1"/>
<line x1="458.02" y1="265.5" x2="458.02" y2="261.5" stroke="#000" stroke-width="1"/>
<line x1="458.02" y1="332.5" x2="458.02" y2="330.9" stroke="#000" stroke-width="1"/>
<line x1="458.02" y1="265.5" x2="458.02" y2="266.7" stroke="#000" stroke-width="1"/>
<line x1="463.85" y1="3.5" x2="463.85" y2="7.5" stroke="#000" stroke-width="1"/>
<line x1="463.85" y1="265.5" x2="463.85" y2="261.5" stroke="#000" stroke-width="1"/>
<line x1="463.85" y1="332.5" x2="463.85" y2="330.9" stroke="#000" stroke-width="1"/>
<line x1="463.85" y1="265.5" x2="463.85" y2="266.7" stroke="#000" stroke-width="1"/>
<line x1="469.69" y1="3.5" x2="469.69" y2="7.5" stroke="#000" stroke-width="1"/>
<line x1="469.69" y1="265.5" x2="469.69" y2="261.5" stroke="#000" stroke-width="1"/>
<line x1="469.69" y1="332.5" x2="469.69" y2="330.9" stroke="#000" stroke-width="1"/>
<line x1="469.69" y1="265.5" x2="469.69" y2="266.7" stroke="#000" stroke-width="1"/>
<line x1="475.52" y1="3.5" x2="475.52" y2="11.5" stroke="#000" stroke-width="1"/>
<line x1="475.52" y1="265.5" x2="475.52" y2="257.5" stroke="#000" stroke-width="1"/>
<line x1="475.52" y1="332.5" x2="475.52" y2="329.5" stroke="#000" stroke-width="1"/>
<line x1="475.52" y1="265.5" x2="475.52" y2="267.7" stroke="#000" stroke-width="1"/>
<line x1="481.36" y1="3.5" x2="481.36" y2="7.5" stroke="#000" stroke-width="1"/>
<line x1="481.36" y1="265.5" x2="481.36" y2="261.5" stroke="#000" stroke-width="1"/>
<line x1="481.36" y1="332.5" x2="481.36" y2="330.9" stroke="#000" stroke-width="1"/>
<line x1="481.36" y1="265.5" x2="481.36" y2="266.7" stroke="#000" stroke-width="1"/>
<line x1="487.19" y1="3.5" x2="487.19" y2="7.5" stroke="#000" stroke-width="1"/>
<line x1="487.19" y1="265.5" x2="487.19" y2="261.5" stroke="#000" stroke-width="1"/>
<line x1="487.19" y1="332.5" x2="487.19" y2="330.9" stroke="#000" stroke-width="1"/>
<line x1="487.19" y1="265.5" x2="487.19" y2="266.7" stroke="#000" stroke-width="1"/>
<line x1="493.03" y1="3.5" x2="493.03" y2="7.5" stroke="#000" stroke-width="1"/>
<line x1="493.03" y1="265.5" x2="493.03" y2="261.5" stroke="#000" stroke-width="1"/>
<line x1="493.03" y1="332.5" x2="493.03" y2="330.9" stroke="#000" stroke-width="1"/>
<line x1="493.03" y1="265.5" x2="493.03" y2="266.7" stroke="#000" stroke-width="1"/>
<line x1="498.86" y1="3.5" x2="498.86" y2="11.5" stroke="#000" stroke-width="1"/>
<line x1="498.86" y1="265.5" x2="498.86" y2="257.5" stroke="#000" stroke-width="1"/>
<line x1="498.86" y1="332.5" x2="498.86" y2="329.5" stroke="#000" stroke-width="1"/>
<line x1="498.86" y1="265.5" x2="498.86" y2="267.7" stroke="#000" stroke-width="1"/>
<line x1="504.7" y1="3.5" x2="504.7" y2="7.5" stroke="#000" stroke-width="1"/>
<line x1="504.7" y1="265.5" x2="504.7" y2="261.5" stroke="#000" stroke-width="1"/>
<line x1="504.7" y1="332.5" x2="504.7" y2="330.9" stroke="#000" stroke-width="1"/>
<line x1="504.7" y1="265.5" x2="504.7" y2="266.7" stroke="#000" stroke-width="1"/>
<line x1="510.53" y1="3.5" x2="510.53" y2="7.5" stroke="#000" stroke-width="1"/>
<line x1="510.53" y1="265.5" x2="510.53" y2="261.5" stroke="#000" stroke-width="1"/>
<line x1="510.53" y1="332.5" x2="510.53" y2="330.9" stroke="#000" stroke-width="1"/>
<line x1="510.53" y1="265.5" x2="510.53" y2="266.7" stroke="#000" stroke-width="1"/>
<line x1="516.37" y1="3.5" x2="516.37" y2="7.5" stroke="#000" stroke-width="1"/>
<line x1="516.37" y1="265.5" x2="516.37" y2="261.5" stroke="#000" stroke-width="1"/>
<line x1="516.37" y1="332.5" x2="516.37" y2="330.9" stroke="#000" stroke-width="1"/>
<line x1="516.37" y1="265.5" x2="516.37" y2="266.7" stroke="#000" stroke-width="1"/>
<line x1="522.2" y1="3.5" x2="522.2" y2="11.5" stroke="#000" stroke-width="1"/>
<line x1="522.2" y1="265.5" x2="522.2" y2="257.5" stroke="#000" stroke-width="1"/>
<line x1="522.2" y1="332.5" x2="522.2" y2="329.5" stroke="#000" stroke-width="1"/>
<line x1="522.2" y1="265.5" x2="522.2" y2="267.7" stroke="#000" stroke-width="1"/>
<line x1="528.04" y1="3.5" x2="528.04" y2="7.5" stroke="#000" stroke-width="1"/>
<line x1="528.04" y1="265.5" x2="528.04" y2="261.5" stroke="#000" stroke-width="1"/>
<line x1="528.04" y1="332.5" x2="528.04" y2="330.9" stroke="#000" stroke-width="1"/>
<line x1="528.04" y1="265.5" x2="528.04" y2="266.7" stroke="#000" stroke-width="1"/>
<line x1="533.87" y1="3.5" x2="533.87" y2="7.5" stroke="#000" stroke-width="1"/>
<line x1="533.87" y1="265.5" x2="533.87" y2="261.5" stroke="#000" stroke-width="1"/>
<line x1="533.87" y1="332.5" x2="533.87" y2="330.9" stroke="#000" stroke-width="1"/>
<line x1="533.87" y1="265.5" x2="533.87" y2="266.7" stroke="#000" stroke-width="1"/>
<line x1="539.71" y1="3.5" x2="539.71" y2="7.5" stroke="#000" stroke-width="1"/>
<line x1="539.71" y1="265.5" x2="539.71" y2="261.5" stroke="#000" stroke-width="1"/>
<line x1="539.71" y1="332.5" x2="539.71" y2="330.9" stroke="#000" stroke-width="1"/>
<line x1="539.71" y1="265.5" x2="539.71" y2="266.7" stroke="#000" stroke-width="1"/>
<line x1="545.54" y1="3.5" x2="545.54" y2="11.5" stroke="#000" stroke-width="1"/>
<line x1="545.54" y1="265.5" x2="545.54" y2="257.5" stroke="#000" stroke-width="1"/>
<line x1="545.54" y1="332.5" x2="545.54" y2="329.5" stroke="#000" stroke-width="1"/>
<line x1="545.54" y1="265.5" x2="545.54" y2="267.7" stroke="#000" stroke-width="1"/>
<line x1="551.38" y1="3.5" x2="551.38" y2="7.5" stroke="#000" stroke-width="1"/>
<line x1="551.38" y1="265.5" x2="551.38" y2="261.5" stroke="#000" stroke-width="1"/>
<line x1="551.38" y1="332.5" x2="551.38" y2="330.9" stroke="#000" stroke-width="1"/>
<line x1="551.38" y1="265.5" x2="551.38" y2="266.7" stroke="#000" stroke-width="1"/>
<line x1="557.21" y1="3.5" x2="557.21" y2="7.5" stroke="#000" stroke-width="1"/>
<line x1="557.21" y1="265.5" x2="557.21" y2="261.5" stroke="#000" stroke-width="1"/>
<line x1="557.21" y1="332.5" x2="557.21" y2="330.9" stroke="#000" stroke-width="1"/>
<line x1="557.21" y1="265.5" x2="557.21" y2="266.7" stroke="#000" stroke-width="1"/>
<line x1="563.05" y1="3.5" x2="563.05" y2="7.5" stroke="#000" stroke-width="1"/>
<line x1="563.05" y1="265.5" x2="563.05" y2="261.5" stroke="#000" stroke-width="1"/>
<line x1="563.05" y1="332.5" x2="563.05" y2="330.9" stroke="#000" stroke-width="1"/>
<line x1="563.05" y1="265.5" x2="563.05" y2="266.7" stroke="#000" stroke-width="1"/>
<line x1="568.88" y1="3.5" x2="568.88" y2="11.5" stroke="#000" stroke-width="1"/>
<line x1="568.88" y1="265.5" x2="568.88" y2="257.5" stroke="#000" stroke-width="1"/>
<line x1="568.88" y1="332.5" x2="568.88" y2="329.5" stroke="#000" stroke-width="1"/>
<line x1="568.88" y1="265.5" x2="568.88" y2="267.7" stroke="#000" stroke-width="1"/>
<line x1="574.72" y1="3.5" x2="574.72" y2="7.5" stroke="#000" stroke-width="1"/>
<line x1="574.72" y1="265.5" x2="574.72" y2="261.5" stroke="#000" stroke-width="1"/>
<line x1="574.72" y1="332.5" x2="574.72" y2="330.9" stroke="#000" stroke-width="1"/>
<line x1="574.72" y1="265.5" x2="574.72" y2="266.7" stroke="#000" stroke-width="1"/>
<line x1="580.55" y1="3.5" x2="580.55" y2="7.5" stroke="#000" stroke-width="1"/>
<line x1="580.55" y1="265.5" x2="580.55" y2="261.5" stroke="#000" stroke-width="1"/>
<line x1="580.55" y1="332.5" x2="580.55" y2="330.9" stroke="#000" stroke-width="1"/>
<line x1="580.55" y1="265.5" x2="580.55" y2="266.7" stroke="#000" stroke-width="1"/>
<line x1="586.39" y1="3.5" x2="586.39" y2="7.5" stroke="#000" stroke-width="1"/>
<line x1="586.39" y1="265.5" x2="586.39" y2="261.5" stroke="#000" stroke-width="1"/>
<line x1="586.39" y1="332.5" x2="586.39" y2="330.9" stroke="#000" stroke-width="1"/>
<line x1="586.39" y1="265.5" x2="586.39" y2="266.7" stroke="#000" stroke-width="1"/>
<line x1="592.22" y1="3.5" x2="592.22" y2="11.5" stroke="#000" stroke-width="1"/>
<line x1="592.22" y1="265.5" x2="592.22" y2="257.5" stroke="#000" stroke-width="1"/>
<line x1="592.22" y1="332.5" x2="592.22" y2="329.5" stroke="#000" stroke-width="1"/>
<line x1="592.22" y1="265.5" x2="592.22" y2="267.7" stroke="#000" stroke-width="1"/>
<line x1="598.06" y1="3.5" x2="598.06" y2="7.5" stroke="#000" stroke-width="1"/>
<line x1="598.06" y1="265.5" x2="598.06" y2="261.5" stroke="#000" stroke-width="1"/>
<line x1="598.06" y1="332.5" x2="598.06" y2="330.9" stroke="#000" stroke-width="1"/>
<line x1="598.06" y1="265.5" x2="598.06" y2="266.7" stroke="#000" stroke-width="1"/>
<line x1="603.89" y1="3.5" x2="603.89" y2="7.5" stroke="#000" stroke-width="1"/>
<line x1="603.89" y1="265.5" x2="603.89" y2="261.5" stroke="#000" stroke-width="1"/>
<line x1="603.89" y1="332.5" x2="603.89" y2="330.9" stroke="#000" stroke-width="1"/>
<line x1="603.89" y1="265.5" x2="603.89" y2="266.7" stroke="#000" stroke-width="1"/>
<line x1="609.73" y1="3.5" x2="609.73" y2="7.5" stroke="#000" stroke-width="1"/>
<line x1="609.73" y1="265.5" x2="609.73" y2="261.5" stroke="#000" stroke-width="1"/>
<line x1="609.73" y1="332.5" x2="609.73" y2="330.9" stroke="#000" stroke-width="1"/>
<line x1="609.73" y1="265.5" x2="609.73" y2="266.7" stroke="#000" stroke-width="1"/>
<line x1="615.56" y1="3.5" x2="615.56" y2="11.5" stroke="#000" stroke-width="1"/>
<line x1="615.56" y1="265.5" x2="615.56" y2="257.5" stroke="#000" stroke-width="1"/>
<line x1="615.56" y1="332.5" x2="615.56" y2="329.5" stroke="#000" stroke-width="1"/>
<line x1="615.56" y1="265.5" x2="615.56" y2="267.7" stroke="#000" stroke-width="1"/>
<line x1="621.4" y1="3.5" x2="621.4" y2="7.5" stroke="#000" stroke-width="1"/>
<line x1="621.4" y1="265.5" x2="621.4" y2="261.5" stroke="#000" stroke-width="1"/>
<line x1="621.4" y1="332.5" x2="621.4" y2="330.9" stroke="#000" stroke-width="1"/>
<line x1="621.4" y1="265.5" x2="621.4" y2="266.7" stroke="#000" stroke-width="1"/>
<line x1="627.23" y1="3.5" x2="627.23" y2="7.5" stroke="#000" stroke-width="1"/>
<line x1="627.23" y1="265.5" x2="627.23" y2="261.5" stroke="#000" stroke-width="1"/>
<line x1="627.23" y1="332.5" x2="627.23" y2="330.9" stroke="#000" stroke-width="1"/>
<line x1="627.23" y1="265.5" x2="627.23" y2="266.7" stroke="#000" stroke-width="1"/>
<line x1="633.07" y1="3.5" x2="633.07" y2="7.5" stroke="#000" stroke-width="1"/>
<line x1="633.07" y1="265.5" x2="633.07" y2="261.5" stroke="#000" stroke-width="1"/>
<line x1="633.07" y1="332.5" x2="633.07" y2="330.9" stroke="#000" stroke-width="1"/>
<line x1="633.07" y1="265.5" x2="633.07" y2="266.7" stroke="#000" stroke-width="1"/>
<line x1="638.9" y1="3.5" x2="638.9" y2="11.5" stroke="#000" stroke-width="1"/>
<line x1="638.9" y1="265.5" x2="638.9" y2="257.5" stroke="#000" stroke-width="1"/>
<line x1="638.9" y1="332.5" x2="638.9" y2="329.5" stroke="#000" stroke-width="1"/>
<line x1="638.9" y1="265.5" x2="638.9" y2="267.7" stroke="#000" stroke-width="1"/>
<line x1="644.74" y1="3.5" x2="644.74" y2="7.5" stroke="#000" stroke-width="1"/>
<line x1="644.74" y1="265.5" x2="644.74" y2="261.5" stroke="#000" stroke-width="1"/>
<line x1="644.74" y1="332.5" x2="644.74" y2="330.9" stroke="#000" stroke-width="1"/>
<line x1="644.74" y1="265.5" x2="644.74" y2="266.7" stroke="#000" stroke-width="1"/>
<line x1="650.57" y1="3.5" x2="650.57" y2="7.5" stroke="#000" stroke-width="1"/>
<line x1="650.57" y1="265.5" x2="650.57" y2="261.5" stroke="#000" stroke-width="1"/>
<line x1="650.57" y1="332.5" x2="650.57" y2="330.9" stroke="#000" stroke-width="1"/>
<line x1="650.57" y1="265.5" x2="650.57" y2="266.7" stroke="#000" stroke-width="1"/>
<line x1="656.41" y1="3.5" x2="656.41" y2="7.5" stroke="#000" stroke-width="1"/>
<line x1="656.41" y1="265.5" x2="656.41" y2="261.5" stroke="#000" stroke-width="1"/>
<line x1="656.41" y1="332.5" x2="656.41" y2="330.9" stroke="#000" stroke-width="1"/>
<line x1="656.41" y1="265.5" x2="656.41" y2="266.7" stroke="#000" stroke-width="1"/>
<line x1="662.24" y1="3.5" x2="662.24" y2="11.5" stroke="#000" stroke-width="1"/>
<line x1="662.24" y1="265.5" x2="662.24" y2="257.5" stroke="#000" stroke-width="1"/>
<line x1="662.24" y1="332.5" x2="662.24" y2="329.5" stroke="#000" stroke-width="1"/>
<line x1="662.24" y1="265.5" x2="662.24" y2="267.7" stroke="#000" stroke-width="1"/>
<line x1="668.08" y1="3.5" x2="668.08" y2="7.5" stroke="#000" stroke-width="1"/>
<line x1="668.08" y1="265.5" x2="668.08" y2="261.5" stroke="#000" stroke-width="1"/>
<line x1="668.08" y1="332.5" x2="668.08" y2="330.9" stroke="#000" stroke-width="1"/>
<line x1="668.08" y1="265.5" x2="668.08" y2="266.7" stroke="#000" stroke-width="1"/>
<line x1="673.91" y1="3.5" x2="673.91" y2="7.5" stroke="#000" stroke-width="1"/>
<line x1="673.91" y1="265.5" x2="673.91" y2="261.5" stroke="#000" stroke-width="1"/>
<line x1="673.91" y1="332.5" x2="673.91" y2="330.9" stroke="#000" stroke-width="1"/>
<line x1="673.91" y1="265.5" x2="673.91" y2="266.7" stroke="#000" stroke-width="1"/>
<line x1="679.75" y1="3.5" x2="679.75" y2="7.5" stroke="#000" stroke-width="1"/>
<line x1="679.75" y1="265.5" x2="679.75" y2="261.5" stroke="#000" stroke-width="1"/>
<line x1="679.75" y1="332.5" x2="679.75" y2="330.9" stroke="#000" stroke-width="1"/>
<line x1="679.75" y1="265.5" x2="679.75" y2="266.7" stroke="#000" stroke-width="1"/>
<line x1="405.5" y1="255.5" x2="409.7" y2="255.5" stroke="#000" stroke-width="1"/>
<line x1="682.5" y1="255.5" x2="678.3" y2="255.5" stroke="#000" stroke-width="1"/>
<line x1="405.5" y1="245.5" x2="409.7" y2="245.5" stroke="#000" stroke-width="1"/>
<line x1="682.5" y1="245.5" x2="678.3" y2="245.5" stroke="#000" stroke-width="1"/>
<line x1="405.5" y1="235.5" x2="409.7" y2="235.5" stroke="#000" stroke-width="1"/>
<line x1="682.5" y1="235.5" x2="678.3" y2="235.5" stroke="#000" stroke-width="1"/>
<line x1="405.5" y1="225.5" x2="409.7" y2="225.5" stroke="#000" stroke-width="1"/>
<line x1="682.5" y1="225.5" x2="678.3" y2="225.5" stroke="#000" stroke-width="1"/>
<line x1="405.5" y1="215.5" x2="414" y2="215.5" stroke="#000" stroke-width="1"/>
<line x1="682.5" y1="215.5" x2="674" y2="215.5" stroke="#000" stroke-width="1"/>
<line x1="405.5" y1="205.5" x2="409.7" y2="205.5" stroke="#000" stroke-width="1"/>
<line x1="682.5" y1="205.5" x2="678.3" y2="205.5" stroke="#000" stroke-width="1"/>
<line x1="405.5" y1="195.5" x2="409.7" y2="195.5" stroke="#000" stroke-width="1"/>
<line x1="682.5" y1="195.5" x2="678.3" y2="195.5" stroke="#000" stroke-width="1"/>
<line x1="405.5" y1="185.5" x2="409.7" y2="185.5" stroke="#000" stroke-width="1"/>
<line x1="682.5" y1="185.5" x2="678.3" y2="185.5" stroke="#000" stroke-width="1"/>
<line x1="405.5" y1="175.5" x2="409.7" y2="175.5" stroke="#000" stroke-width="1"/>
<line x1="682.5" y1="175.5" x2="678.3" y2="175.5" stroke="#000" stroke-width="1"/>
<line x1="405.5" y1="165.5" x2="414" y2="165.5" stroke="#000" stroke-width="1"/>
<line x1="682.5" y1="165.5" x2="674" y2="165.5" stroke="#000" stroke-width="1"/>
<line x1="405.5" y1="155.5" x2="409.7" y2="155.5" stroke="#000" stroke-width="1"/>
<line x1="682.5" y1="155.5" x2="678.3" y2="155.5" stroke="#000" stroke-width="1"/>
<line x1="405.5" y1="145.5" x2="409.7" y2="145.5" stroke="#000" stroke-width="1"/>
<line x1="682.5" y1="145.5" x2="678.3" y2="145.5" stroke="#000" stroke-width="1"/>
<line x1="405.5" y1="135.5" x2="409.7" y2="135.5" stroke="#000" stroke-width="1"/>
<line x1="682.5" y1="135.5" x2="678.3" y2="135.5" stroke="#000" stroke-width="1"/>
<line x1="405.5" y1="125.5" x2="409.7" y2="125.5" stroke="#000" stroke-width="1"/>
<line x1="682.5" y1="125.5" x2="678.3" y2="125.5" stroke="#000" stroke-width="1"/>
<line x1="405.5" y1="115.5" x2="414" y2="115.5" stroke="#000" stroke-width="1"/>
<line x1="682.5" y1="115.5" x2="674" y2="115.5" stroke="#000" stroke-width="1"/>
<line x1="405.5" y1="105.5" x2="409.7" y2="105.5" stroke="#000" stroke-width="1"/>
<line x1="682.5" y1="105.5" x2="678.3" y2="105.5" stroke="#000" stroke-width="1"/>
<line x1="405.5" y1="95.5" x2="409.7" y2="95.5" stroke="#000" stroke-width="1"/>
<line x1="682.5" y1="95.5" x2="678.3" y2="95.5" stroke="#000" stroke-width="1"/>
<line x1="405.5" y1="85.5" x2="409.7" y2="85.5" stroke="#000" stroke-width="1"/>
<line x1="682.5" y1="85.5" x2="678.3" y2="85.5" stroke="#000" stroke-width="1"/>
<line x1="405.5" y1="75.5" x2="409.7" y2="75.5" stroke="#000" stroke-width="1"/>
<line x1="682.5" y1="75.5" x2="678.3" y2="75.5" stroke="#000" stroke-width="1"/>
<line x1="405.5" y1="65.5" x2="414" y2="65.5" stroke="#000" stroke-width="1"/>
<line x1="682.5" y1="65.5" x2="674" y2="65.5" stroke="#000" stroke-width="1"/>
<line x1="405.5" y1="55.5" x2="409.7" y2="55.5" stroke="#000" stroke-width="1"/>
<line x1="682.5" y1="55.5" x2="678.3" y2="55.5" stroke="#000" stroke-width="1"/>
<line x1="405.5" y1="45.5" x2="409.7" y2="45.5" stroke="#000" stroke-width="1"/>
<line x1="682.5" y1="45.5" x2="678.3" y2="45.5" stroke="#000" stroke-width="1"/>
<line x1="405.5" y1="35.5" x2="409.7" y2="35.5" stroke="#000" stroke-width="1"/>
<line x1="682.5" y1="35.5" x2="678.3" y2="35.5" stroke="#000" stroke-width="1"/>
<line x1="405.5" y1="25.5" x2="409.7" y2="25.5" stroke="#000" stroke-width="1"/>
<line x1="682.5" y1="25.5" x2="678.3" y2="25.5" stroke="#000" stroke-width="1"/>
<line x1="405.5" y1="15.5" x2="414" y2="15.5" stroke="#000" stroke-width="1"/>
<line x1="682.5" y1="15.5" x2="674" y2="15.5" stroke="#000" stroke-width="1"/>
<line x1="405.5" y1="5.5" x2="409.7" y2="5.5" stroke="#000" stroke-width="1"/>
<line x1="682.5" y1="5.5" x2="678.3" y2="5.5" stroke="#000" stroke-width="1"/>
<line x1="405.5" y1="329.15" x2="408.8" y2="329.15" stroke="#000" stroke-width="1"/>
<line x1="682.5" y1="329.15" x2="679.2" y2="329.15" stroke="#000" stroke-width="1"/>
<line x1="405.5" y1="325.8" x2="408.8" y2="325.8" stroke="#000" stroke-width="1"/>
<line x1="682.5" y1="325.8" x2="679.2" y2="325.8" stroke="#000" stroke-width="1"/>
<line x1="405.5" y1="322.45" x2="408.8" y2="322.45" stroke="#000" stroke-width="1"/>
<line x1="682.5" y1="322.45" x2="679.2" y2="322.45" stroke="#000" stroke-width="1"/>
<line x1="405.5" y1="319.1" x2="408.8" y2="319.1" stroke="#000" stroke-width="1"/>
<line x1="682.5" y1="319.1" x2="679.2" y2="319.1" stroke="#000" stroke-width="1"/>
<line x1="405.5" y1="315.75" x2="411.8" y2="315.75" stroke="#000" stroke-width="1"/>
<line x1="682.5" y1="315.75" x2="676.2" y2="315.75" stroke="#000" stroke-width="1"/>
<line x1="405.5" y1="312.4" x2="408.8" y2="312.4" stroke="#000" stroke-width="1"/>
<line x1="682.5" y1="312.4" x2="679.2" y2="312.4" stroke="#000" stroke-width="1"/>
<line x1="405.5" y1="309.05" x2="408.8" y2="309.05" stroke="#000" stroke-width="1"/>
<line x1="682.5" y1="309.05" x2="679.2" y2="309.05" stroke="#000" stroke-width="1"/>
<line x1="405.5" y1="305.7" x2="408.8" y2="305.7" stroke="#000" stroke-width="1"/>
<line x1="682.5" y1="305.7" x2="679.2" y2="305.7" stroke="#000" stroke-width="1"/>
<line x1="405.5" y1="302.35" x2="408.8" y2="302.35" stroke="#000" stroke-width="1"/>
<line x1="682.5" y1="302.35" x2="679.2" y2="302.35" stroke="#000" stroke-width="1"/>
<line x1="405.5" y1="299" x2="411.8" y2="299" stroke="#000" stroke-width="1"/>
<line x1="682.5" y1="299" x2="676.2" y2="299" stroke="#000" stroke-width="1"/>
<line x1="405.5" y1="295.65" x2="408.8" y2="295.65" stroke="#000" stroke-width="1"/>
<line x1="682.5" y1="295.65" x2="679.2" y2="295.65" stroke="#000" stroke-width="1"/>
<line x1="405.5" y1="292.3" x2="408.8" y2="292.3" stroke="#000" stroke-width="1"/>
<line x1="682.5" y1="292.3" x2="679.2" y2="292.3" stroke="#000" stroke-width="1"/>
<line x1="405.5" y1="288.95" x2="408.8" y2="288.95" stroke="#000" stroke-width="1"/>
<line x1="682.5" y1="288.95" x2="679.2" y2="288.95" stroke="#000" stroke-width="1"/>
<line x1="405.5" y1="285.6" x2="408.8" y2="285.6" stroke="#000" stroke-width="1"/>
<line x1="682.5" y1="285.6" x2="679.2" y2="285.6" stroke="#000" stroke-width="1"/>
<line x1="405.5" y1="282.25" x2="411.8" y2="282.25" stroke="#000" stroke-width="1"/>
<line x1="682.5" y1="282.25" x2="676.2" y2="282.25" stroke="#000" stroke-width="1"/>
<line x1="405.5" y1="278.9" x2="408.8" y2="278.9" stroke="#000" stroke-width="1"/>
<line x1="682.5" y1="278.9" x2="679.2" y2="278.9" stroke="#000" stroke-width="1"/>
<line x1="405.5" y1="275.55" x2="408.8" y2="275.55" stroke="#000" stroke-width="1"/>
<line x1="682.5" y1="275.55" x2="679.2" y2="275.55" stroke="#000" stroke-width="1"/>
<line x1="405.5" y1="272.2" x2="408.8" y2="272.2" stroke="#000" stroke-width="1"/>
<line x1="682.5" y1="272.2" x2="679.2" y2="272.2" stroke="#000" stroke-width="1"/>
<line x1="405.5" y1="268.85" x2="408.8" y2="268.85" stroke="#000" stroke-width="1"/>
<line x1="682.5" y1="268.85" x2="679.2" y2="268.85" stroke="#000" stroke-width="1"/>
<text x="405.5" y="345" font-size="11.2" text-anchor="middle" font-weight="normal" font-style="normal" font-family='"Liberation Sans", sans-serif'>0</text>
<text x="428.84" y="345" font-size="11.2" text-anchor="middle" font-weight="normal" font-style="normal" font-family='"Liberation Sans", sans-serif'>0.2</text>
<text x="452.18" y="345" font-size="11.2" text-anchor="middle" font-weight="normal" font-style="normal" font-family='"Liberation Sans", sans-serif'>0.4</text>
<text x="475.52" y="345" font-size="11.2" text-anchor="middle" font-weight="normal" font-style="normal" font-family='"Liberation Sans", sans-serif'>0.6</text>
<text x="498.86" y="345" font-size="11.2" text-anchor="middle" font-weight="normal" font-style="normal" font-family='"Liberation Sans", sans-serif'>0.8</text>
<text x="522.2" y="345" font-size="11.2" text-anchor="middle" font-weight="normal" font-style="normal" font-family='"Liberation Sans", sans-serif'>1</text>
<text x="545.54" y="345" font-size="11.2" text-anchor="middle" font-weight="normal" font-style="normal" font-family='"Liberation Sans", sans-serif'>1.2</text>
<text x="568.88" y="345" font-size="11.2" text-anchor="middle" font-weight="normal" font-style="normal" font-family='"Liberation Sans", sans-serif'>1.4</text>
<text x="592.22" y="345" font-size="11.2" text-anchor="middle" font-weight="normal" font-style="normal" font-family='"Liberation Sans", sans-serif'>1.6</text>
<text x="615.56" y="345" font-size="11.2" text-anchor="middle" font-weight="normal" font-style="normal" font-family='"Liberation Sans", sans-serif'>1.8</text>
<text x="638.9" y="345" font-size="11.2" text-anchor="middle" font-weight="normal" font-style="normal" font-family='"Liberation Sans", sans-serif'>2</text>
<text x="662.24" y="345" font-size="11.2" text-anchor="middle" font-weight="normal" font-style="normal" font-family='"Liberation Sans", sans-serif'>2.2</text>
<text x="404.2" y="270" font-size="11.2" text-anchor="end" font-weight="normal" font-style="normal" font-family='"Liberation Sans", sans-serif'>0</text>
<text x="404.2" y="220" font-size="11.2" text-anchor="end" font-weight="normal" font-style="normal" font-family='"Liberation Sans", sans-serif'>500</text>
<text x="404.2" y="170" font-size="11.2" text-anchor="end" font-weight="normal" font-style="normal" font-family='"Liberation Sans", sans-serif'>1000</text>
<text x="404.2" y="120" font-size="11.2" text-anchor="end" font-weight="normal" font-style="normal" font-family='"Liberation Sans", sans-serif'>1500</text>
<text x="404.2" y="70" font-size="11.2" text-anchor="end" font-weight="normal" font-style="normal" font-family='"Liberation Sans", sans-serif'>2000</text>
<text x="404.2" y="20" font-size="11.2" text-anchor="end" font-weight="normal" font-style="normal" font-family='"Liberation Sans", sans-serif'>2500</text>
<text x="398.3" y="337" font-size="11.2" text-anchor="end" font-weight="normal" font-style="normal" font-family='"Liberation Sans", sans-serif'>0.75</text>
<text x="398.3" y="320" font-size="11.2" text-anchor="end" font-weight="normal" font-style="normal" font-family='"Liberation Sans", sans-serif'>0.875</text>
<text x="398.3" y="303" font-size="11.2" text-anchor="end" font-weight="normal" font-style="normal" font-family='"Liberation Sans", sans-serif'>1</text>
<text x="398.3" y="287" font-size="11.2" text-anchor="end" font-weight="normal" font-style="normal" font-family='"Liberation Sans", sans-serif'>1.125</text>
<line x1="406" y1="299" x2="682" y2="299" stroke="#000" stroke-width="1.25" stroke-dasharray="2,1.9"/>
<path d="M227.5,664.5 L227.5,546.58 L238.55,546.58 L238.55,551.7 L249.61,551.7 L249.61,545.61 L260.66,545.61 L260.66,538.69 L271.71,538.69 L271.71,542.15 L282.77,542.15 L282.77,536.34 L293.82,536.34 L293.82,529.28 L304.87,529.28 L304.87,528.18 L315.93,528.18 L315.93,627.13 L503.5,627.13 L503.5,664.5Z" fill="#ff0000" stroke="none"/>
<path d="M227.5,664.5 L227.5,616.61 L238.55,616.61 L238.55,618.83 L249.61,618.83 L249.61,612.46 L260.66,612.46 L260.66,606.79 L271.71,606.79 L271.71,611.35 L282.77,611.35 L282.77,608.59 L293.82,608.59 L293.82,604.57 L304.87,604.57 L304.87,604.57 L315.93,604.57 L315.93,646.51 L503.5,646.51 L503.5,664.5Z" fill="#cc66ff" stroke="none"/>
<path d="M227.5,664.5 L227.5,616.61 L238.55,616.61 L238.55,618.83 L249.61,618.83 L249.61,612.46 L260.66,612.46 L260.66,606.79 L271.71,606.79 L271.71,611.35 L282.77,611.35 L282.77,608.59 L293.82,608.59 L293.82,604.57 L304.87,604.57 L304.87,604.57 L315.93,604.57 L315.93,646.51 L503.5,646.51 L503.5,664.5" fill="none" stroke="#000" stroke-width="0.85"/>
<path d="M227.5,664.5 L227.5,623.95 L238.55,623.95 L238.55,629.76 L249.61,629.76 L249.61,623.26 L260.66,623.26 L260.66,619.52 L271.71,619.52 L271.71,626.02 L282.77,626.02 L282.77,624.36 L293.82,624.36 L293.82,621.32 L304.87,621.32 L304.87,621.32 L315.93,621.32 L315.93,651.77 L503.5,651.77 L503.5,664.5Z" fill="#660066" stroke="none"/>
<path d="M227.5,664.5 L227.5,623.95 L238.55,623.95 L238.55,629.76 L249.61,629.76 L249.61,623.26 L260.66,623.26 L260.66,619.52 L271.71,619.52 L271.71,626.02 L282.77,626.02 L282.77,624.36 L293.82,624.36 L293.82,621.32 L304.87,621.32 L304.87,621.32 L315.93,621.32 L315.93,651.77 L503.5,651.77 L503.5,664.5" fill="none" stroke="#000" stroke-width="0.85"/>
<path d="M227.5,664.5 L227.5,635.85 L238.55,635.85 L238.55,643.6 L249.61,643.6 L249.61,639.17 L260.66,639.17 L260.66,637.1 L271.71,637.1 L271.71,643.88 L282.77,643.88 L282.77,643.6 L293.82,643.6 L293.82,640.97 L304.87,640.97 L304.87,641.8 L315.93,641.8 L315.93,658.13 L503.5,658.13 L503.5,664.5Z" fill="#ccffff" stroke="none"/>
<path d="M227.5,664.5 L227.5,635.85 L238.55,635.85 L238.55,643.6 L249.61,643.6 L249.61,639.17 L260.66,639.17 L260.66,637.1 L271.71,637.1 L271.71,643.88 L282.77,643.88 L282.77,643.6 L293.82,643.6 L293.82,640.97 L304.87,640.97 L304.87,641.8 L315.93,641.8 L315.93,658.13 L503.5,658.13 L503.5,664.5" fill="none" stroke="#000" stroke-width="0.85"/>
<path d="M227.5,664.5 L227.5,639.17 L238.55,639.17 L238.55,646.78 L249.61,646.78 L249.61,640.7 L260.66,640.7 L260.66,640.28 L271.71,640.28 L271.71,645.82 L282.77,645.82 L282.77,646.51 L293.82,646.51 L293.82,641.8 L304.87,641.8 L304.87,643.6 L315.93,643.6 L315.93,659.79 L503.5,659.79 L503.5,664.5Z" fill="#ffff00" stroke="none"/>
<path d="M227.5,664.5 L227.5,639.17 L238.55,639.17 L238.55,646.78 L249.61,646.78 L249.61,640.7 L260.66,640.7 L260.66,640.28 L271.71,640.28 L271.71,645.82 L282.77,645.82 L282.77,646.51 L293.82,646.51 L293.82,641.8 L304.87,641.8 L304.87,643.6 L315.93,643.6 L315.93,659.79 L503.5,659.79 L503.5,664.5" fill="none" stroke="#000" stroke-width="0.85"/>
<path d="M227.5,664.5 L227.5,656.33 L238.55,656.33 L238.55,657.86 L249.61,657.86 L249.61,657.16 L260.66,657.16 L260.66,654.54 L271.71,654.54 L271.71,657.44 L282.77,657.44 L282.77,658.27 L293.82,658.27 L293.82,651.91 L304.87,651.91 L304.87,656.33 L315.93,656.33 L315.93,662.56 L503.5,662.56 L503.5,664.5Z" fill="#55d455" stroke="none"/>
<path d="M227.5,664.5 L227.5,656.33 L238.55,656.33 L238.55,657.86 L249.61,657.86 L249.61,657.16 L260.66,657.16 L260.66,654.54 L271.71,654.54 L271.71,657.44 L282.77,657.44 L282.77,658.27 L293.82,658.27 L293.82,651.91 L304.87,651.91 L304.87,656.33 L315.93,656.33 L315.93,662.56 L503.5,662.56 L503.5,664.5" fill="none" stroke="#000" stroke-width="0.85"/>
<rect x="227.5" y="538" width="11.05" height="17.16" fill="url(#hatch)"/>
<rect x="238.55" y="543.12" width="11.05" height="17.16" fill="url(#hatch)"/>
<rect x="249.61" y="537.03" width="11.05" height="17.16" fill="url(#hatch)"/>
<rect x="260.66" y="529.28" width="11.05" height="18.82" fill="url(#hatch)"/>
<rect x="271.71" y="532.47" width="11.05" height="19.38" fill="url(#hatch)"/>
<rect x="282.77" y="526.38" width="11.05" height="19.93" fill="url(#hatch)"/>
<rect x="293.82" y="518.9" width="11.05" height="20.76" fill="url(#hatch)"/>
<rect x="304.87" y="517.8" width="11.05" height="20.76" fill="url(#hatch)"/>
<rect x="315.93" y="625.19" width="187.57" height="3.88" fill="url(#hatch)"/>
<circle cx="233.03" cy="547.69" r="3.2" fill="#000"/>
<circle cx="244.08" cy="552.81" r="3.2" fill="#000"/>
<circle cx="255.13" cy="543.54" r="3.2" fill="#000"/>
<circle cx="266.19" cy="545.48" r="3.2" fill="#000"/>
<circle cx="277.24" cy="551.01" r="3.2" fill="#000"/>
<circle cx="288.29" cy="534.82" r="3.2" fill="#000"/>
<circle cx="299.35" cy="537.03" r="3.2" fill="#000"/>
<circle cx="310.4" cy="523.47" r="3.2" fill="#000"/>
<circle cx="409.88" cy="627.13" r="3.2" fill="#000"/>
<line x1="233.03" y1="694.28" x2="233.03" y2="703.53" stroke="#000" stroke-width="1.2"/>
<circle cx="233.03" cy="698.91" r="3.3" fill="#000"/>
<line x1="244.08" y1="694.28" x2="244.08" y2="703.53" stroke="#000" stroke-width="1.2"/>
<circle cx="244.08" cy="698.91" r="3.3" fill="#000"/>
<line x1="255.13" y1="691.43" x2="255.13" y2="700.68" stroke="#000" stroke-width="1.2"/>
<circle cx="255.13" cy="696.05" r="3.3" fill="#000"/>
<line x1="266.19" y1="700.54" x2="266.19" y2="709.79" stroke="#000" stroke-width="1.2"/>
<circle cx="266.19" cy="705.16" r="3.3" fill="#000"/>
<line x1="277.24" y1="703.12" x2="277.24" y2="712.37" stroke="#000" stroke-width="1.2"/>
<circle cx="277.24" cy="707.75" r="3.3" fill="#000"/>
<line x1="288.29" y1="692.92" x2="288.29" y2="702.17" stroke="#000" stroke-width="1.2"/>
<circle cx="288.29" cy="697.55" r="3.3" fill="#000"/>
<line x1="299.35" y1="701.36" x2="299.35" y2="710.6" stroke="#000" stroke-width="1.2"/>
<circle cx="299.35" cy="705.98" r="3.3" fill="#000"/>
<line x1="310.4" y1="688.84" x2="310.4" y2="698.09" stroke="#000" stroke-width="1.2"/>
<circle cx="310.4" cy="693.47" r="3.3" fill="#000"/>
<line x1="409.88" y1="694.83" x2="409.88" y2="700.27" stroke="#000" stroke-width="1.2"/>
<circle cx="409.88" cy="697.55" r="3.3" fill="#000"/>
<rect x="227.5" y="688.71" width="11.05" height="19.58" fill="url(#hatch)"/>
<rect x="238.55" y="688.71" width="11.05" height="19.58" fill="url(#hatch)"/>
<rect x="249.61" y="688.71" width="11.05" height="19.58" fill="url(#hatch)"/>
<rect x="260.66" y="687.89" width="11.05" height="21.22" fill="url(#hatch)"/>
<rect x="271.71" y="687.89" width="11.05" height="21.22" fill="url(#hatch)"/>
<rect x="282.77" y="687.62" width="11.05" height="21.76" fill="url(#hatch)"/>
<rect x="293.82" y="687.62" width="11.05" height="21.76" fill="url(#hatch)"/>
<rect x="304.87" y="687.89" width="11.05" height="21.22" fill="url(#hatch)"/>
<rect x="315.93" y="691.02" width="187.57" height="14.96" fill="url(#hatch)"/>
<rect x="227.5" y="403.5" width="276" height="261" fill="none" stroke="#000" stroke-width="1"/>
<rect x="227.5" y="664.5" width="276" height="68" fill="none" stroke="#000" stroke-width="1"/>
<line x1="233.03" y1="403.5" x2="233.03" y2="407.5" stroke="#000" stroke-width="1"/>
<line x1="233.03" y1="664.5" x2="233.03" y2="660.5" stroke="#000" stroke-width="1"/>
<line x1="233.03" y1="732.5" x2="233.03" y2="730.9" stroke="#000" stroke-width="1"/>
<line x1="233.03" y1="664.5" x2="233.03" y2="665.7" stroke="#000" stroke-width="1"/>
<line x1="238.55" y1="403.5" x2="238.55" y2="407.5" stroke="#000" stroke-width="1"/>
<line x1="238.55" y1="664.5" x2="238.55" y2="660.5" stroke="#000" stroke-width="1"/>
<line x1="238.55" y1="732.5" x2="238.55" y2="730.9" stroke="#000" stroke-width="1"/>
<line x1="238.55" y1="664.5" x2="238.55" y2="665.7" stroke="#000" stroke-width="1"/>
<line x1="244.08" y1="403.5" x2="244.08" y2="407.5" stroke="#000" stroke-width="1"/>
<line x1="244.08" y1="664.5" x2="244.08" y2="660.5" stroke="#000" stroke-width="1"/>
<line x1="244.08" y1="732.5" x2="244.08" y2="730.9" stroke="#000" stroke-width="1"/>
<line x1="244.08" y1="664.5" x2="244.08" y2="665.7" stroke="#000" stroke-width="1"/>
<line x1="249.61" y1="403.5" x2="249.61" y2="407.5" stroke="#000" stroke-width="1"/>
<line x1="249.61" y1="664.5" x2="249.61" y2="660.5" stroke="#000" stroke-width="1"/>
<line x1="249.61" y1="732.5" x2="249.61" y2="730.9" stroke="#000" stroke-width="1"/>
<line x1="249.61" y1="664.5" x2="249.61" y2="665.7" stroke="#000" stroke-width="1"/>
<line x1="255.13" y1="403.5" x2="255.13" y2="411.5" stroke="#000" stroke-width="1"/>
<line x1="255.13" y1="664.5" x2="255.13" y2="656.5" stroke="#000" stroke-width="1"/>
<line x1="255.13" y1="732.5" x2="255.13" y2="729.5" stroke="#000" stroke-width="1"/>
<line x1="255.13" y1="664.5" x2="255.13" y2="666.7" stroke="#000" stroke-width="1"/>
<line x1="260.66" y1="403.5" x2="260.66" y2="407.5" stroke="#000" stroke-width="1"/>
<line x1="260.66" y1="664.5" x2="260.66" y2="660.5" stroke="#000" stroke-width="1"/>
<line x1="260.66" y1="732.5" x2="260.66" y2="730.9" stroke="#000" stroke-width="1"/>
<line x1="260.66" y1="664.5" x2="260.66" y2="665.7" stroke="#000" stroke-width="1"/>
<line x1="266.19" y1="403.5" x2="266.19" y2="407.5" stroke="#000" stroke-width="1"/>
<line x1="266.19" y1="664.5" x2="266.19" y2="660.5" stroke="#000" stroke-width="1"/>
<line x1="266.19" y1="732.5" x2="266.19" y2="730.9" stroke="#000" stroke-width="1"/>
<line x1="266.19" y1="664.5" x2="266.19" y2="665.7" stroke="#000" stroke-width="1"/>
<line x1="271.71" y1="403.5" x2="271.71" y2="407.5" stroke="#000" stroke-width="1"/>
<line x1="271.71" y1="664.5" x2="271.71" y2="660.5" stroke="#000" stroke-width="1"/>
<line x1="271.71" y1="732.5" x2="271.71" y2="730.9" stroke="#000" stroke-width="1"/>
<line x1="271.71" y1="664.5" x2="271.71" y2="665.7" stroke="#000" stroke-width="1"/>
<line x1="277.24" y1="403.5" x2="277.24" y2="407.5" stroke="#000" stroke-width="1"/>
<line x1="277.24" y1="664.5" x2="277.24" y2="660.5" stroke="#000" stroke-width="1"/>
<line x1="277.24" y1="732.5" x2="277.24" y2="730.9" stroke="#000" stroke-width="1"/>
<line x1="277.24" y1="664.5" x2="277.24" y2="665.7" stroke="#000" stroke-width="1"/>
<line x1="282.77" y1="403.5" x2="282.77" y2="411.5" stroke="#000" stroke-width="1"/>
<line x1="282.77" y1="664.5" x2="282.77" y2="656.5" stroke="#000" stroke-width="1"/>
<line x1="282.77" y1="732.5" x2="282.77" y2="729.5" stroke="#000" stroke-width="1"/>
<line x1="282.77" y1="664.5" x2="282.77" y2="666.7" stroke="#000" stroke-width="1"/>
<line x1="288.29" y1="403.5" x2="288.29" y2="407.5" stroke="#000" stroke-width="1"/>
<line x1="288.29" y1="664.5" x2="288.29" y2="660.5" stroke="#000" stroke-width="1"/>
<line x1="288.29" y1="732.5" x2="288.29" y2="730.9" stroke="#000" stroke-width="1"/>
<line x1="288.29" y1="664.5" x2="288.29" y2="665.7" stroke="#000" stroke-width="1"/>
<line x1="293.82" y1="403.5" x2="293.82" y2="407.5" stroke="#000" stroke-width="1"/>
<line x1="293.82" y1="664.5" x2="293.82" y2="660.5" stroke="#000" stroke-width="1"/>
<line x1="293.82" y1="732.5" x2="293.82" y2="730.9" stroke="#000" stroke-width="1"/>
<line x1="293.82" y1="664.5" x2="293.82" y2="665.7" stroke="#000" stroke-width="1"/>
<line x1="299.35" y1="403.5" x2="299.35" y2="407.5" stroke="#000" stroke-width="1"/>
<line x1="299.35" y1="664.5" x2="299.35" y2="660.5" stroke="#000" stroke-width="1"/>
<line x1="299.35" y1="732.5" x2="299.35" y2="730.9" stroke="#000" stroke-width="1"/>
<line x1="299.35" y1="664.5" x2="299.35" y2="665.7" stroke="#000" stroke-width="1"/>
<line x1="304.87" y1="403.5" x2="304.87" y2="407.5" stroke="#000" stroke-width="1"/>
<line x1="304.87" y1="664.5" x2="304.87" y2="660.5" stroke="#000" stroke-width="1"/>
<line x1="304.87" y1="732.5" x2="304.87" y2="730.9" stroke="#000" stroke-width="1"/>
<line x1="304.87" y1="664.5" x2="304.87" y2="665.7" stroke="#000" stroke-width="1"/>
<line x1="310.4" y1="403.5" x2="310.4" y2="411.5" stroke="#000" stroke-width="1"/>
<line x1="310.4" y1="664.5" x2="310.4" y2="656.5" stroke="#000" stroke-width="1"/>
<line x1="310.4" y1="732.5" x2="310.4" y2="729.5" stroke="#000" stroke-width="1"/>
<line x1="310.4" y1="664.5" x2="310.4" y2="666.7" stroke="#000" stroke-width="1"/>
<line x1="315.93" y1="403.5" x2="315.93" y2="407.5" stroke="#000" stroke-width="1"/>
<line x1="315.93" y1="664.5" x2="315.93" y2="660.5" stroke="#000" stroke-width="1"/>
<line x1="315.93" y1="732.5" x2="315.93" y2="730.9" stroke="#000" stroke-width="1"/>
<line x1="315.93" y1="664.5" x2="315.93" y2="665.7" stroke="#000" stroke-width="1"/>
<line x1="321.45" y1="403.5" x2="321.45" y2="407.5" stroke="#000" stroke-width="1"/>
<line x1="321.45" y1="664.5" x2="321.45" y2="660.5" stroke="#000" stroke-width="1"/>
<line x1="321.45" y1="732.5" x2="321.45" y2="730.9" stroke="#000" stroke-width="1"/>
<line x1="321.45" y1="664.5" x2="321.45" y2="665.7" stroke="#000" stroke-width="1"/>
<line x1="326.98" y1="403.5" x2="326.98" y2="407.5" stroke="#000" stroke-width="1"/>
<line x1="326.98" y1="664.5" x2="326.98" y2="660.5" stroke="#000" stroke-width="1"/>
<line x1="326.98" y1="732.5" x2="326.98" y2="730.9" stroke="#000" stroke-width="1"/>
<line x1="326.98" y1="664.5" x2="326.98" y2="665.7" stroke="#000" stroke-width="1"/>
<line x1="332.51" y1="403.5" x2="332.51" y2="407.5" stroke="#000" stroke-width="1"/>
<line x1="332.51" y1="664.5" x2="332.51" y2="660.5" stroke="#000" stroke-width="1"/>
<line x1="332.51" y1="732.5" x2="332.51" y2="730.9" stroke="#000" stroke-width="1"/>
<line x1="332.51" y1="664.5" x2="332.51" y2="665.7" stroke="#000" stroke-width="1"/>
<line x1="338.03" y1="403.5" x2="338.03" y2="411.5" stroke="#000" stroke-width="1"/>
<line x1="338.03" y1="664.5" x2="338.03" y2="656.5" stroke="#000" stroke-width="1"/>
<line x1="338.03" y1="732.5" x2="338.03" y2="729.5" stroke="#000" stroke-width="1"/>
<line x1="338.03" y1="664.5" x2="338.03" y2="666.7" stroke="#000" stroke-width="1"/>
<line x1="343.56" y1="403.5" x2="343.56" y2="407.5" stroke="#000" stroke-width="1"/>
<line x1="343.56" y1="664.5" x2="343.56" y2="660.5" stroke="#000" stroke-width="1"/>
<line x1="343.56" y1="732.5" x2="343.56" y2="730.9" stroke="#000" stroke-width="1"/>
<line x1="343.56" y1="664.5" x2="343.56" y2="665.7" stroke="#000" stroke-width="1"/>
<line x1="349.09" y1="403.5" x2="349.09" y2="407.5" stroke="#000" stroke-width="1"/>
<line x1="349.09" y1="664.5" x2="349.09" y2="660.5" stroke="#000" stroke-width="1"/>
<line x1="349.09" y1="732.5" x2="349.09" y2="730.9" stroke="#000" stroke-width="1"/>
<line x1="349.09" y1="664.5" x2="349.09" y2="665.7" stroke="#000" stroke-width="1"/>
<line x1="354.61" y1="403.5" x2="354.61" y2="407.5" stroke="#000" stroke-width="1"/>
<line x1="354.61" y1="664.5" x2="354.61" y2="660.5" stroke="#000" stroke-width="1"/>
<line x1="354.61" y1="732.5" x2="354.61" y2="730.9" stroke="#000" stroke-width="1"/>
<line x1="354.61" y1="664.5" x2="354.61" y2="665.7" stroke="#000" stroke-width="1"/>
<line x1="360.14" y1="403.5" x2="360.14" y2="407.5" stroke="#000" stroke-width="1"/>
<line x1="360.14" y1="664.5" x2="360.14" y2="660.5" stroke="#000" stroke-width="1"/>
<line x1="360.14" y1="732.5" x2="360.14" y2="730.9" stroke="#000" stroke-width="1"/>
<line x1="360.14" y1="664.5" x2="360.14" y2="665.7" stroke="#000" stroke-width="1"/>
<line x1="365.67" y1="403.5" x2="365.67" y2="411.5" stroke="#000" stroke-width="1"/>
<line x1="365.67" y1="664.5" x2="365.67" y2="656.5" stroke="#000" stroke-width="1"/>
<line x1="365.67" y1="732.5" x2="365.67" y2="729.5" stroke="#000" stroke-width="1"/>
<line x1="365.67" y1="664.5" x2="365.67" y2="666.7" stroke="#000" stroke-width="1"/>
<line x1="371.19" y1="403.5" x2="371.19" y2="407.5" stroke="#000" stroke-width="1"/>
<line x1="371.19" y1="664.5" x2="371.19" y2="660.5" stroke="#000" stroke-width="1"/>
<line x1="371.19" y1="732.5" x2="371.19" y2="730.9" stroke="#000" stroke-width="1"/>
<line x1="371.19" y1="664.5" x2="371.19" y2="665.7" stroke="#000" stroke-width="1"/>
<line x1="376.72" y1="403.5" x2="376.72" y2="407.5" stroke="#000" stroke-width="1"/>
<line x1="376.72" y1="664.5" x2="376.72" y2="660.5" stroke="#000" stroke-width="1"/>
<line x1="376.72" y1="732.5" x2="376.72" y2="730.9" stroke="#000" stroke-width="1"/>
<line x1="376.72" y1="664.5" x2="376.72" y2="665.7" stroke="#000" stroke-width="1"/>
<line x1="382.25" y1="403.5" x2="382.25" y2="407.5" stroke="#000" stroke-width="1"/>
<line x1="382.25" y1="664.5" x2="382.25" y2="660.5" stroke="#000" stroke-width="1"/>
<line x1="382.25" y1="732.5" x2="382.25" y2="730.9" stroke="#000" stroke-width="1"/>
<line x1="382.25" y1="664.5" x2="382.25" y2="665.7" stroke="#000" stroke-width="1"/>
<line x1="387.77" y1="403.5" x2="387.77" y2="407.5" stroke="#000" stroke-width="1"/>
<line x1="387.77" y1="664.5" x2="387.77" y2="660.5" stroke="#000" stroke-width="1"/>
<line x1="387.77" y1="732.5" x2="387.77" y2="730.9" stroke="#000" stroke-width="1"/>
<line x1="387.77" y1="664.5" x2="387.77" y2="665.7" stroke="#000" stroke-width="1"/>
<line x1="393.3" y1="403.5" x2="393.3" y2="411.5" stroke="#000" stroke-width="1"/>
<line x1="393.3" y1="664.5" x2="393.3" y2="656.5" stroke="#000" stroke-width="1"/>
<line x1="393.3" y1="732.5" x2="393.3" y2="729.5" stroke="#000" stroke-width="1"/>
<line x1="393.3" y1="664.5" x2="393.3" y2="666.7" stroke="#000" stroke-width="1"/>
<line x1="398.83" y1="403.5" x2="398.83" y2="407.5" stroke="#000" stroke-width="1"/>
<line x1="398.83" y1="664.5" x2="398.83" y2="660.5" stroke="#000" stroke-width="1"/>
<line x1="398.83" y1="732.5" x2="398.83" y2="730.9" stroke="#000" stroke-width="1"/>
<line x1="398.83" y1="664.5" x2="398.83" y2="665.7" stroke="#000" stroke-width="1"/>
<line x1="404.35" y1="403.5" x2="404.35" y2="407.5" stroke="#000" stroke-width="1"/>
<line x1="404.35" y1="664.5" x2="404.35" y2="660.5" stroke="#000" stroke-width="1"/>
<line x1="404.35" y1="732.5" x2="404.35" y2="730.9" stroke="#000" stroke-width="1"/>
<line x1="404.35" y1="664.5" x2="404.35" y2="665.7" stroke="#000" stroke-width="1"/>
<line x1="409.88" y1="403.5" x2="409.88" y2="407.5" stroke="#000" stroke-width="1"/>
<line x1="409.88" y1="664.5" x2="409.88" y2="660.5" stroke="#000" stroke-width="1"/>
<line x1="409.88" y1="732.5" x2="409.88" y2="730.9" stroke="#000" stroke-width="1"/>
<line x1="409.88" y1="664.5" x2="409.88" y2="665.7" stroke="#000" stroke-width="1"/>
<line x1="415.41" y1="403.5" x2="415.41" y2="407.5" stroke="#000" stroke-width="1"/>
<line x1="415.41" y1="664.5" x2="415.41" y2="660.5" stroke="#000" stroke-width="1"/>
<line x1="415.41" y1="732.5" x2="415.41" y2="730.9" stroke="#000" stroke-width="1"/>
<line x1="415.41" y1="664.5" x2="415.41" y2="665.7" stroke="#000" stroke-width="1"/>
<line x1="420.93" y1="403.5" x2="420.93" y2="411.5" stroke="#000" stroke-width="1"/>
<line x1="420.93" y1="664.5" x2="420.93" y2="656.5" stroke="#000" stroke-width="1"/>
<line x1="420.93" y1="732.5" x2="420.93" y2="729.5" stroke="#000" stroke-width="1"/>
<line x1="420.93" y1="664.5" x2="420.93" y2="666.7" stroke="#000" stroke-width="1"/>
<line x1="426.46" y1="403.5" x2="426.46" y2="407.5" stroke="#000" stroke-width="1"/>
<line x1="426.46" y1="664.5" x2="426.46" y2="660.5" stroke="#000" stroke-width="1"/>
<line x1="426.46" y1="732.5" x2="426.46" y2="730.9" stroke="#000" stroke-width="1"/>
<line x1="426.46" y1="664.5" x2="426.46" y2="665.7" stroke="#000" stroke-width="1"/>
<line x1="431.99" y1="403.5" x2="431.99" y2="407.5" stroke="#000" stroke-width="1"/>
<line x1="431.99" y1="664.5" x2="431.99" y2="660.5" stroke="#000" stroke-width="1"/>
<line x1="431.99" y1="732.5" x2="431.99" y2="730.9" stroke="#000" stroke-width="1"/>
<line x1="431.99" y1="664.5" x2="431.99" y2="665.7" stroke="#000" stroke-width="1"/>
<line x1="437.51" y1="403.5" x2="437.51" y2="407.5" stroke="#000" stroke-width="1"/>
<line x1="437.51" y1="664.5" x2="437.51" y2="660.5" stroke="#000" stroke-width="1"/>
<line x1="437.51" y1="732.5" x2="437.51" y2="730.9" stroke="#000" stroke-width="1"/>
<line x1="437.51" y1="664.5" x2="437.51" y2="665.7" stroke="#000" stroke-width="1"/>
<line x1="443.04" y1="403.5" x2="443.04" y2="407.5" stroke="#000" stroke-width="1"/>
<line x1="443.04" y1="664.5" x2="443.04" y2="660.5" stroke="#000" stroke-width="1"/>
<line x1="443.04" y1="732.5" x2="443.04" y2="730.9" stroke="#000" stroke-width="1"/>
<line x1="443.04" y1="664.5" x2="443.04" y2="665.7" stroke="#000" stroke-width="1"/>
<line x1="448.57" y1="403.5" x2="448.57" y2="411.5" stroke="#000" stroke-width="1"/>
<line x1="448.57" y1="664.5" x2="448.57" y2="656.5" stroke="#000" stroke-width="1"/>
<line x1="448.57" y1="732.5" x2="448.57" y2="729.5" stroke="#000" stroke-width="1"/>
<line x1="448.57" y1="664.5" x2="448.57" y2="666.7" stroke="#000" stroke-width="1"/>
<line x1="454.09" y1="403.5" x2="454.09" y2="407.5" stroke="#000" stroke-width="1"/>
<line x1="454.09" y1="664.5" x2="454.09" y2="660.5" stroke="#000" stroke-width="1"/>
<line x1="454.09" y1="732.5" x2="454.09" y2="730.9" stroke="#000" stroke-width="1"/>
<line x1="454.09" y1="664.5" x2="454.09" y2="665.7" stroke="#000" stroke-width="1"/>
<line x1="459.62" y1="403.5" x2="459.62" y2="407.5" stroke="#000" stroke-width="1"/>
<line x1="459.62" y1="664.5" x2="459.62" y2="660.5" stroke="#000" stroke-width="1"/>
<line x1="459.62" y1="732.5" x2="459.62" y2="730.9" stroke="#000" stroke-width="1"/>
<line x1="459.62" y1="664.5" x2="459.62" y2="665.7" stroke="#000" stroke-width="1"/>
<line x1="465.15" y1="403.5" x2="465.15" y2="407.5" stroke="#000" stroke-width="1"/>
<line x1="465.15" y1="664.5" x2="465.15" y2="660.5" stroke="#000" stroke-width="1"/>
<line x1="465.15" y1="732.5" x2="465.15" y2="730.9" stroke="#000" stroke-width="1"/>
<line x1="465.15" y1="664.5" x2="465.15" y2="665.7" stroke="#000" stroke-width="1"/>
<line x1="470.67" y1="403.5" x2="470.67" y2="407.5" stroke="#000" stroke-width="1"/>
<line x1="470.67" y1="664.5" x2="470.67" y2="660.5" stroke="#000" stroke-width="1"/>
<line x1="470.67" y1="732.5" x2="470.67" y2="730.9" stroke="#000" stroke-width="1"/>
<line x1="470.67" y1="664.5" x2="470.67" y2="665.7" stroke="#000" stroke-width="1"/>
<line x1="476.2" y1="403.5" x2="476.2" y2="411.5" stroke="#000" stroke-width="1"/>
<line x1="476.2" y1="664.5" x2="476.2" y2="656.5" stroke="#000" stroke-width="1"/>
<line x1="476.2" y1="732.5" x2="476.2" y2="729.5" stroke="#000" stroke-width="1"/>
<line x1="476.2" y1="664.5" x2="476.2" y2="666.7" stroke="#000" stroke-width="1"/>
<line x1="481.73" y1="403.5" x2="481.73" y2="407.5" stroke="#000" stroke-width="1"/>
<line x1="481.73" y1="664.5" x2="481.73" y2="660.5" stroke="#000" stroke-width="1"/>
<line x1="481.73" y1="732.5" x2="481.73" y2="730.9" stroke="#000" stroke-width="1"/>
<line x1="481.73" y1="664.5" x2="481.73" y2="665.7" stroke="#000" stroke-width="1"/>
<line x1="487.25" y1="403.5" x2="487.25" y2="407.5" stroke="#000" stroke-width="1"/>
<line x1="487.25" y1="664.5" x2="487.25" y2="660.5" stroke="#000" stroke-width="1"/>
<line x1="487.25" y1="732.5" x2="487.25" y2="730.9" stroke="#000" stroke-width="1"/>
<line x1="487.25" y1="664.5" x2="487.25" y2="665.7" stroke="#000" stroke-width="1"/>
<line x1="492.78" y1="403.5" x2="492.78" y2="407.5" stroke="#000" stroke-width="1"/>
<line x1="492.78" y1="664.5" x2="492.78" y2="660.5" stroke="#000" stroke-width="1"/>
<line x1="492.78" y1="732.5" x2="492.78" y2="730.9" stroke="#000" stroke-width="1"/>
<line x1="492.78" y1="664.5" x2="492.78" y2="665.7" stroke="#000" stroke-width="1"/>
<line x1="498.3" y1="403.5" x2="498.3" y2="407.5" stroke="#000" stroke-width="1"/>
<line x1="498.3" y1="664.5" x2="498.3" y2="660.5" stroke="#000" stroke-width="1"/>
<line x1="498.3" y1="732.5" x2="498.3" y2="730.9" stroke="#000" stroke-width="1"/>
<line x1="498.3" y1="664.5" x2="498.3" y2="665.7" stroke="#000" stroke-width="1"/>
<line x1="227.5" y1="657.58" x2="231.7" y2="657.58" stroke="#000" stroke-width="1"/>
<line x1="503.5" y1="657.58" x2="499.3" y2="657.58" stroke="#000" stroke-width="1"/>
<line x1="227.5" y1="650.66" x2="231.7" y2="650.66" stroke="#000" stroke-width="1"/>
<line x1="503.5" y1="650.66" x2="499.3" y2="650.66" stroke="#000" stroke-width="1"/>
<line x1="227.5" y1="643.74" x2="231.7" y2="643.74" stroke="#000" stroke-width="1"/>
<line x1="503.5" y1="643.74" x2="499.3" y2="643.74" stroke="#000" stroke-width="1"/>
<line x1="227.5" y1="636.82" x2="236" y2="636.82" stroke="#000" stroke-width="1"/>
<line x1="503.5" y1="636.82" x2="495" y2="636.82" stroke="#000" stroke-width="1"/>
<line x1="227.5" y1="629.9" x2="231.7" y2="629.9" stroke="#000" stroke-width="1"/>
<line x1="503.5" y1="629.9" x2="499.3" y2="629.9" stroke="#000" stroke-width="1"/>
<line x1="227.5" y1="622.98" x2="231.7" y2="622.98" stroke="#000" stroke-width="1"/>
<line x1="503.5" y1="622.98" x2="499.3" y2="622.98" stroke="#000" stroke-width="1"/>
<line x1="227.5" y1="616.06" x2="231.7" y2="616.06" stroke="#000" stroke-width="1"/>
<line x1="503.5" y1="616.06" x2="499.3" y2="616.06" stroke="#000" stroke-width="1"/>
<line x1="227.5" y1="609.14" x2="236" y2="609.14" stroke="#000" stroke-width="1"/>
<line x1="503.5" y1="609.14" x2="495" y2="609.14" stroke="#000" stroke-width="1"/>
<line x1="227.5" y1="602.22" x2="231.7" y2="602.22" stroke="#000" stroke-width="1"/>
<line x1="503.5" y1="602.22" x2="499.3" y2="602.22" stroke="#000" stroke-width="1"/>
<line x1="227.5" y1="595.3" x2="231.7" y2="595.3" stroke="#000" stroke-width="1"/>
<line x1="503.5" y1="595.3" x2="499.3" y2="595.3" stroke="#000" stroke-width="1"/>
<line x1="227.5" y1="588.38" x2="231.7" y2="588.38" stroke="#000" stroke-width="1"/>
<line x1="503.5" y1="588.38" x2="499.3" y2="588.38" stroke="#000" stroke-width="1"/>
<line x1="227.5" y1="581.46" x2="236" y2="581.46" stroke="#000" stroke-width="1"/>
<line x1="503.5" y1="581.46" x2="495" y2="581.46" stroke="#000" stroke-width="1"/>
<line x1="227.5" y1="574.54" x2="231.7" y2="574.54" stroke="#000" stroke-width="1"/>
<line x1="503.5" y1="574.54" x2="499.3" y2="574.54" stroke="#000" stroke-width="1"/>
<line x1="227.5" y1="567.62" x2="231.7" y2="567.62" stroke="#000" stroke-width="1"/>
<line x1="503.5" y1="567.62" x2="499.3" y2="567.62" stroke="#000" stroke-width="1"/>
<line x1="227.5" y1="560.7" x2="231.7" y2="560.7" stroke="#000" stroke-width="1"/>
<line x1="503.5" y1="560.7" x2="499.3" y2="560.7" stroke="#000" stroke-width="1"/>
<line x1="227.5" y1="553.78" x2="236" y2="553.78" stroke="#000" stroke-width="1"/>
<line x1="503.5" y1="553.78" x2="495" y2="553.78" stroke="#000" stroke-width="1"/>
<line x1="227.5" y1="546.86" x2="231.7" y2="546.86" stroke="#000" stroke-width="1"/>
<line x1="503.5" y1="546.86" x2="499.3" y2="546.86" stroke="#000" stroke-width="1"/>
<line x1="227.5" y1="539.94" x2="231.7" y2="539.94" stroke="#000" stroke-width="1"/>
<line x1="503.5" y1="539.94" x2="499.3" y2="539.94" stroke="#000" stroke-width="1"/>
<line x1="227.5" y1="533.02" x2="231.7" y2="533.02" stroke="#000" stroke-width="1"/>
<line x1="503.5" y1="533.02" x2="499.3" y2="533.02" stroke="#000" stroke-width="1"/>
<line x1="227.5" y1="526.1" x2="236" y2="526.1" stroke="#000" stroke-width="1"/>
<line x1="503.5" y1="526.1" x2="495" y2="526.1" stroke="#000" stroke-width="1"/>
<line x1="227.5" y1="519.18" x2="231.7" y2="519.18" stroke="#000" stroke-width="1"/>
<line x1="503.5" y1="519.18" x2="499.3" y2="519.18" stroke="#000" stroke-width="1"/>
<line x1="227.5" y1="512.26" x2="231.7" y2="512.26" stroke="#000" stroke-width="1"/>
<line x1="503.5" y1="512.26" x2="499.3" y2="512.26" stroke="#000" stroke-width="1"/>
<line x1="227.5" y1="505.34" x2="231.7" y2="505.34" stroke="#000" stroke-width="1"/>
<line x1="503.5" y1="505.34" x2="499.3" y2="505.34" stroke="#000" stroke-width="1"/>
<line x1="227.5" y1="498.42" x2="236" y2="498.42" stroke="#000" stroke-width="1"/>
<line x1="503.5" y1="498.42" x2="495" y2="498.42" stroke="#000" stroke-width="1"/>
<line x1="227.5" y1="491.5" x2="231.7" y2="491.5" stroke="#000" stroke-width="1"/>
<line x1="503.5" y1="491.5" x2="499.3" y2="491.5" stroke="#000" stroke-width="1"/>
<line x1="227.5" y1="484.58" x2="231.7" y2="484.58" stroke="#000" stroke-width="1"/>
<line x1="503.5" y1="484.58" x2="499.3" y2="484.58" stroke="#000" stroke-width="1"/>
<line x1="227.5" y1="477.66" x2="231.7" y2="477.66" stroke="#000" stroke-width="1"/>
<line x1="503.5" y1="477.66" x2="499.3" y2="477.66" stroke="#000" stroke-width="1"/>
<line x1="227.5" y1="470.74" x2="236" y2="470.74" stroke="#000" stroke-width="1"/>
<line x1="503.5" y1="470.74" x2="495" y2="470.74" stroke="#000" stroke-width="1"/>
<line x1="227.5" y1="463.82" x2="231.7" y2="463.82" stroke="#000" stroke-width="1"/>
<line x1="503.5" y1="463.82" x2="499.3" y2="463.82" stroke="#000" stroke-width="1"/>
<line x1="227.5" y1="456.9" x2="231.7" y2="456.9" stroke="#000" stroke-width="1"/>
<line x1="503.5" y1="456.9" x2="499.3" y2="456.9" stroke="#000" stroke-width="1"/>
<line x1="227.5" y1="449.98" x2="231.7" y2="449.98" stroke="#000" stroke-width="1"/>
<line x1="503.5" y1="449.98" x2="499.3" y2="449.98" stroke="#000" stroke-width="1"/>
<line x1="227.5" y1="443.06" x2="236" y2="443.06" stroke="#000" stroke-width="1"/>
<line x1="503.5" y1="443.06" x2="495" y2="443.06" stroke="#000" stroke-width="1"/>
<line x1="227.5" y1="436.14" x2="231.7" y2="436.14" stroke="#000" stroke-width="1"/>
<line x1="503.5" y1="436.14" x2="499.3" y2="436.14" stroke="#000" stroke-width="1"/>
<line x1="227.5" y1="429.22" x2="231.7" y2="429.22" stroke="#000" stroke-width="1"/>
<line x1="503.5" y1="429.22" x2="499.3" y2="429.22" stroke="#000" stroke-width="1"/>
<line x1="227.5" y1="422.3" x2="231.7" y2="422.3" stroke="#000" stroke-width="1"/>
<line x1="503.5" y1="422.3" x2="499.3" y2="422.3" stroke="#000" stroke-width="1"/>
<line x1="227.5" y1="415.38" x2="236" y2="415.38" stroke="#000" stroke-width="1"/>
<line x1="503.5" y1="415.38" x2="495" y2="415.38" stroke="#000" stroke-width="1"/>
<line x1="227.5" y1="408.46" x2="231.7" y2="408.46" stroke="#000" stroke-width="1"/>
<line x1="503.5" y1="408.46" x2="499.3" y2="408.46" stroke="#000" stroke-width="1"/>
<line x1="227.5" y1="729.1" x2="230.8" y2="729.1" stroke="#000" stroke-width="1"/>
<line x1="503.5" y1="729.1" x2="500.2" y2="729.1" stroke="#000" stroke-width="1"/>
<line x1="227.5" y1="725.7" x2="230.8" y2="725.7" stroke="#000" stroke-width="1"/>
<line x1="503.5" y1="725.7" x2="500.2" y2="725.7" stroke="#000" stroke-width="1"/>
<line x1="227.5" y1="722.3" x2="230.8" y2="722.3" stroke="#000" stroke-width="1"/>
<line x1="503.5" y1="722.3" x2="500.2" y2="722.3" stroke="#000" stroke-width="1"/>
<line x1="227.5" y1="718.9" x2="230.8" y2="718.9" stroke="#000" stroke-width="1"/>
<line x1="503.5" y1="718.9" x2="500.2" y2="718.9" stroke="#000" stroke-width="1"/>
<line x1="227.5" y1="715.5" x2="233.8" y2="715.5" stroke="#000" stroke-width="1"/>
<line x1="503.5" y1="715.5" x2="497.2" y2="715.5" stroke="#000" stroke-width="1"/>
<line x1="227.5" y1="712.1" x2="230.8" y2="712.1" stroke="#000" stroke-width="1"/>
<line x1="503.5" y1="712.1" x2="500.2" y2="712.1" stroke="#000" stroke-width="1"/>
<line x1="227.5" y1="708.7" x2="230.8" y2="708.7" stroke="#000" stroke-width="1"/>
<line x1="503.5" y1="708.7" x2="500.2" y2="708.7" stroke="#000" stroke-width="1"/>
<line x1="227.5" y1="705.3" x2="230.8" y2="705.3" stroke="#000" stroke-width="1"/>
<line x1="503.5" y1="705.3" x2="500.2" y2="705.3" stroke="#000" stroke-width="1"/>
<line x1="227.5" y1="701.9" x2="230.8" y2="701.9" stroke="#000" stroke-width="1"/>
<line x1="503.5" y1="701.9" x2="500.2" y2="701.9" stroke="#000" stroke-width="1"/>
<line x1="227.5" y1="698.5" x2="233.8" y2="698.5" stroke="#000" stroke-width="1"/>
<line x1="503.5" y1="698.5" x2="497.2" y2="698.5" stroke="#000" stroke-width="1"/>
<line x1="227.5" y1="695.1" x2="230.8" y2="695.1" stroke="#000" stroke-width="1"/>
<line x1="503.5" y1="695.1" x2="500.2" y2="695.1" stroke="#000" stroke-width="1"/>
<line x1="227.5" y1="691.7" x2="230.8" y2="691.7" stroke="#000" stroke-width="1"/>
<line x1="503.5" y1="691.7" x2="500.2" y2="691.7" stroke="#000" stroke-width="1"/>
<line x1="227.5" y1="688.3" x2="230.8" y2="688.3" stroke="#000" stroke-width="1"/>
<line x1="503.5" y1="688.3" x2="500.2" y2="688.3" stroke="#000" stroke-width="1"/>
<line x1="227.5" y1="684.9" x2="230.8" y2="684.9" stroke="#000" stroke-width="1"/>
<line x1="503.5" y1="684.9" x2="500.2" y2="684.9" stroke="#000" stroke-width="1"/>
<line x1="227.5" y1="681.5" x2="233.8" y2="681.5" stroke="#000" stroke-width="1"/>
<line x1="503.5" y1="681.5" x2="497.2" y2="681.5" stroke="#000" stroke-width="1"/>
<line x1="227.5" y1="678.1" x2="230.8" y2="678.1" stroke="#000" stroke-width="1"/>
<line x1="503.5" y1="678.1" x2="500.2" y2="678.1" stroke="#000" stroke-width="1"/>
<line x1="227.5" y1="674.7" x2="230.8" y2="674.7" stroke="#000" stroke-width="1"/>
<line x1="503.5" y1="674.7" x2="500.2" y2="674.7" stroke="#000" stroke-width="1"/>
<line x1="227.5" y1="671.3" x2="230.8" y2="671.3" stroke="#000" stroke-width="1"/>
<line x1="503.5" y1="671.3" x2="500.2" y2="671.3" stroke="#000" stroke-width="1"/>
<line x1="227.5" y1="667.9" x2="230.8" y2="667.9" stroke="#000" stroke-width="1"/>
<line x1="503.5" y1="667.9" x2="500.2" y2="667.9" stroke="#000" stroke-width="1"/>
<text x="227.5" y="744" font-size="11.2" text-anchor="middle" font-weight="normal" font-style="normal" font-family='"Liberation Sans", sans-serif'>1</text>
<text x="255.13" y="744" font-size="11.2" text-anchor="middle" font-weight="normal" font-style="normal" font-family='"Liberation Sans", sans-serif'>1.5</text>
<text x="282.77" y="744" font-size="11.2" text-anchor="middle" font-weight="normal" font-style="normal" font-family='"Liberation Sans", sans-serif'>2</text>
<text x="310.4" y="744" font-size="11.2" text-anchor="middle" font-weight="normal" font-style="normal" font-family='"Liberation Sans", sans-serif'>2.5</text>
<text x="338.03" y="744" font-size="11.2" text-anchor="middle" font-weight="normal" font-style="normal" font-family='"Liberation Sans", sans-serif'>3</text>
<text x="365.67" y="744" font-size="11.2" text-anchor="middle" font-weight="normal" font-style="normal" font-family='"Liberation Sans", sans-serif'>3.5</text>
<text x="393.3" y="744" font-size="11.2" text-anchor="middle" font-weight="normal" font-style="normal" font-family='"Liberation Sans", sans-serif'>4</text>
<text x="420.93" y="744" font-size="11.2" text-anchor="middle" font-weight="normal" font-style="normal" font-family='"Liberation Sans", sans-serif'>4.5</text>
<text x="448.57" y="744" font-size="11.2" text-anchor="middle" font-weight="normal" font-style="normal" font-family='"Liberation Sans", sans-serif'>5</text>
<text x="476.2" y="744" font-size="11.2" text-anchor="middle" font-weight="normal" font-style="normal" font-family='"Liberation Sans", sans-serif'>5.5</text>
<text x="503.83" y="744" font-size="11.2" text-anchor="middle" font-weight="normal" font-style="normal" font-family='"Liberation Sans", sans-serif'>6</text>
<text x="225.5" y="669" font-size="11.2" text-anchor="end" font-weight="normal" font-style="normal" font-family='"Liberation Sans", sans-serif'>0</text>
<text x="225.5" y="641" font-size="11.2" text-anchor="end" font-weight="normal" font-style="normal" font-family='"Liberation Sans", sans-serif'>200</text>
<text x="225.5" y="614" font-size="11.2" text-anchor="end" font-weight="normal" font-style="normal" font-family='"Liberation Sans", sans-serif'>400</text>
<text x="225.5" y="586" font-size="11.2" text-anchor="end" font-weight="normal" font-style="normal" font-family='"Liberation Sans", sans-serif'>600</text>
<text x="225.5" y="558" font-size="11.2" text-anchor="end" font-weight="normal" font-style="normal" font-family='"Liberation Sans", sans-serif'>800</text>
<text x="225.5" y="530" font-size="11.2" text-anchor="end" font-weight="normal" font-style="normal" font-family='"Liberation Sans", sans-serif'>1000</text>
<text x="225.5" y="503" font-size="11.2" text-anchor="end" font-weight="normal" font-style="normal" font-family='"Liberation Sans", sans-serif'>1200</text>
<text x="225.5" y="475" font-size="11.2" text-anchor="end" font-weight="normal" font-style="normal" font-family='"Liberation Sans", sans-serif'>1400</text>
<text x="225.5" y="447" font-size="11.2" text-anchor="end" font-weight="normal" font-style="normal" font-family='"Liberation Sans", sans-serif'>1600</text>
<text x="225.5" y="420" font-size="11.2" text-anchor="end" font-weight="normal" font-style="normal" font-family='"Liberation Sans", sans-serif'>1800</text>
<text x="220" y="737" font-size="11.2" text-anchor="end" font-weight="normal" font-style="normal" font-family='"Liberation Sans", sans-serif'>0.75</text>
<text x="220" y="720" font-size="11.2" text-anchor="end" font-weight="normal" font-style="normal" font-family='"Liberation Sans", sans-serif'>0.875</text>
<text x="220" y="703" font-size="11.2" text-anchor="end" font-weight="normal" font-style="normal" font-family='"Liberation Sans", sans-serif'>1</text>
<text x="220" y="686" font-size="11.2" text-anchor="end" font-weight="normal" font-style="normal" font-family='"Liberation Sans", sans-serif'>1.125</text>
<line x1="228" y1="698.5" x2="503" y2="698.5" stroke="#000" stroke-width="1.25" stroke-dasharray="2,1.9"/>
<text x="66.5" y="24.7" font-size="11.6" text-anchor="start" font-weight="bold" font-style="italic" font-family='"Liberation Sans", sans-serif'>ATLAS</text>
<path d="M67.4,35 L68.7,41.2" stroke="#000" stroke-width="1.3" fill="none"/>
<path d="M68.7,41.2 L69.8,31.4 L76.9,31.4" stroke="#000" stroke-width="0.8" fill="none"/>
<text x="71.9" y="41" font-size="11.6" text-anchor="start" font-weight="normal" font-style="normal" font-family='"Liberation Sans", sans-serif'>s = 13 TeV, 36.1&#160;&#160;fb<tspan dy="-4.6" font-size="7.5">-1</tspan></text>
<text x="66.5" y="55.7" font-size="11.2" text-anchor="start" font-weight="normal" font-style="normal" font-family='"Liberation Sans", sans-serif'>Single-lepton</text>
<text x="66.5" y="86.7" font-size="11.3" text-anchor="start" font-weight="normal" font-style="normal" font-family='"Liberation Sans", sans-serif'>Pre-fit</text>
<line x1="186.7" y1="12.8" x2="186.7" y2="22" stroke="#000" stroke-width="1.2"/>
<circle cx="186.7" cy="17.4" r="3.5" fill="#000"/>
<text x="194.8" y="20.6" font-size="9.2" text-anchor="start" font-weight="normal" font-style="normal" font-family='"Liberation Sans", sans-serif'>Data</text>
<rect x="181.2" y="27.4" width="11.6" height="10.8" fill="#cc66ff" stroke="#000" stroke-width="0.8"/>
<text x="194.8" y="36" font-size="9.2" text-anchor="start" font-weight="normal" font-style="normal" font-family='"Liberation Sans", sans-serif'>Had-fake</text>
<rect x="181.2" y="42.8" width="11.6" height="10.8" fill="#ccffff" stroke="#000" stroke-width="0.8"/>
<text x="194.8" y="51.4" font-size="9.2" text-anchor="start" font-weight="normal" font-style="normal" font-family='"Liberation Sans", sans-serif'>Fake lepton</text>
<rect x="181.2" y="58.2" width="11.6" height="10.8" fill="#55d455" stroke="#000" stroke-width="0.8"/>
<text x="194.8" y="66.8" font-size="9.2" text-anchor="start" font-weight="normal" font-style="normal" font-family='"Liberation Sans", sans-serif'>Other prompt</text>
<rect x="258.6" y="12" width="11.6" height="10.8" fill="#ff0000" stroke="none"/>
<text x="272.5" y="20.6" font-size="9.2" text-anchor="start" font-weight="normal" font-style="normal" font-family='"Liberation Sans", sans-serif'>tt<tspan font-family='"Liberation Serif", serif' font-size="10">γ</tspan></text>
<line x1="275.5" y1="13" x2="278.5" y2="13" stroke="#000" stroke-width="1"/>
<rect x="258.6" y="27.4" width="11.6" height="10.8" fill="#660066" stroke="#000" stroke-width="0.8"/>
<text x="272.5" y="36" font-size="9.2" text-anchor="start" font-weight="normal" font-style="normal" font-family='"Liberation Sans", sans-serif'>e-fake</text>
<rect x="258.6" y="42.8" width="11.6" height="10.8" fill="#ffff00" stroke="#000" stroke-width="0.8"/>
<text x="272.5" y="51.4" font-size="9.2" text-anchor="start" font-weight="normal" font-style="normal" font-family='"Liberation Sans", sans-serif'>W<tspan font-family='"Liberation Serif", serif' font-size="10">γ</tspan></text>
<rect x="258.6" y="58.2" width="11.6" height="10.8" fill="url(#hatch)"/>
<text x="272.5" y="66.8" font-size="9.2" text-anchor="start" font-weight="normal" font-style="normal" font-family='"Liberation Sans", sans-serif'>Uncertainty</text>
<text x="419.5" y="24.7" font-size="11.6" text-anchor="start" font-weight="bold" font-style="italic" font-family='"Liberation Sans", sans-serif'>ATLAS</text>
<path d="M420.4,35 L421.7,41.2" stroke="#000" stroke-width="1.3" fill="none"/>
<path d="M421.7,41.2 L422.8,31.4 L429.9,31.4" stroke="#000" stroke-width="0.8" fill="none"/>
<text x="424.9" y="41" font-size="11.6" text-anchor="start" font-weight="normal" font-style="normal" font-family='"Liberation Sans", sans-serif'>s = 13 TeV, 36.1&#160;&#160;fb<tspan dy="-4.6" font-size="7.5">-1</tspan></text>
<text x="419.5" y="55.7" font-size="11.2" text-anchor="start" font-weight="normal" font-style="normal" font-family='"Liberation Sans", sans-serif'>Single-lepton</text>
<text x="419.5" y="86.7" font-size="11.3" text-anchor="start" font-weight="normal" font-style="normal" font-family='"Liberation Sans", sans-serif'>Pre-fit</text>
<line x1="539.7" y1="12.8" x2="539.7" y2="22" stroke="#000" stroke-width="1.2"/>
<circle cx="539.7" cy="17.4" r="3.5" fill="#000"/>
<text x="547.8" y="20.6" font-size="9.2" text-anchor="start" font-weight="normal" font-style="normal" font-family='"Liberation Sans", sans-serif'>Data</text>
<rect x="534.2" y="27.4" width="11.6" height="10.8" fill="#cc66ff" stroke="#000" stroke-width="0.8"/>
<text x="547.8" y="36" font-size="9.2" text-anchor="start" font-weight="normal" font-style="normal" font-family='"Liberation Sans", sans-serif'>Had-fake</text>
<rect x="534.2" y="42.8" width="11.6" height="10.8" fill="#ccffff" stroke="#000" stroke-width="0.8"/>
<text x="547.8" y="51.4" font-size="9.2" text-anchor="start" font-weight="normal" font-style="normal" font-family='"Liberation Sans", sans-serif'>Fake lepton</text>
<rect x="534.2" y="58.2" width="11.6" height="10.8" fill="#55d455" stroke="#000" stroke-width="0.8"/>
<text x="547.8" y="66.8" font-size="9.2" text-anchor="start" font-weight="normal" font-style="normal" font-family='"Liberation Sans", sans-serif'>Other prompt</text>
<rect x="611.6" y="12" width="11.6" height="10.8" fill="#ff0000" stroke="none"/>
<text x="625.5" y="20.6" font-size="9.2" text-anchor="start" font-weight="normal" font-style="normal" font-family='"Liberation Sans", sans-serif'>tt<tspan font-family='"Liberation Serif", serif' font-size="10">γ</tspan></text>
<line x1="628.5" y1="13" x2="631.5" y2="13" stroke="#000" stroke-width="1"/>
<rect x="611.6" y="27.4" width="11.6" height="10.8" fill="#660066" stroke="#000" stroke-width="0.8"/>
<text x="625.5" y="36" font-size="9.2" text-anchor="start" font-weight="normal" font-style="normal" font-family='"Liberation Sans", sans-serif'>e-fake</text>
<rect x="611.6" y="42.8" width="11.6" height="10.8" fill="#ffff00" stroke="#000" stroke-width="0.8"/>
<text x="625.5" y="51.4" font-size="9.2" text-anchor="start" font-weight="normal" font-style="normal" font-family='"Liberation Sans", sans-serif'>W<tspan font-family='"Liberation Serif", serif' font-size="10">γ</tspan></text>
<rect x="611.6" y="58.2" width="11.6" height="10.8" fill="url(#hatch)"/>
<text x="625.5" y="66.8" font-size="9.2" text-anchor="start" font-weight="normal" font-style="normal" font-family='"Liberation Sans", sans-serif'>Uncertainty</text>
<text x="241.5" y="424.1" font-size="11.6" text-anchor="start" font-weight="bold" font-style="italic" font-family='"Liberation Sans", sans-serif'>ATLAS</text>
<path d="M242.4,434.4 L243.7,440.6" stroke="#000" stroke-width="1.3" fill="none"/>
<path d="M243.7,440.6 L244.8,430.8 L251.9,430.8" stroke="#000" stroke-width="0.8" fill="none"/>
<text x="246.9" y="440.4" font-size="11.6" text-anchor="start" font-weight="normal" font-style="normal" font-family='"Liberation Sans", sans-serif'>s = 13 TeV, 36.1&#160;&#160;fb<tspan dy="-4.6" font-size="7.5">-1</tspan></text>
<text x="241.5" y="455.1" font-size="11.2" text-anchor="start" font-weight="normal" font-style="normal" font-family='"Liberation Sans", sans-serif'>Single-lepton</text>
<text x="241.5" y="486.1" font-size="11.3" text-anchor="start" font-weight="normal" font-style="normal" font-family='"Liberation Sans", sans-serif'>Pre-fit</text>
<line x1="361.7" y1="412.5" x2="361.7" y2="421.7" stroke="#000" stroke-width="1.2"/>
<circle cx="361.7" cy="417.1" r="3.5" fill="#000"/>
<text x="369.8" y="420.3" font-size="9.2" text-anchor="start" font-weight="normal" font-style="normal" font-family='"Liberation Sans", sans-serif'>Data</text>
<rect x="356.2" y="427.1" width="11.6" height="10.8" fill="#cc66ff" stroke="#000" stroke-width="0.8"/>
<text x="369.8" y="435.7" font-size="9.2" text-anchor="start" font-weight="normal" font-style="normal" font-family='"Liberation Sans", sans-serif'>Had-fake</text>
<rect x="356.2" y="442.5" width="11.6" height="10.8" fill="#ccffff" stroke="#000" stroke-width="0.8"/>
<text x="369.8" y="451.1" font-size="9.2" text-anchor="start" font-weight="normal" font-style="normal" font-family='"Liberation Sans", sans-serif'>Fake lepton</text>
<rect x="356.2" y="457.9" width="11.6" height="10.8" fill="#55d455" stroke="#000" stroke-width="0.8"/>
<text x="369.8" y="466.5" font-size="9.2" text-anchor="start" font-weight="normal" font-style="normal" font-family='"Liberation Sans", sans-serif'>Other prompt</text>
<rect x="433.6" y="411.7" width="11.6" height="10.8" fill="#ff0000" stroke="none"/>
<text x="447.5" y="420.3" font-size="9.2" text-anchor="start" font-weight="normal" font-style="normal" font-family='"Liberation Sans", sans-serif'>tt<tspan font-family='"Liberation Serif", serif' font-size="10">γ</tspan></text>
<line x1="450.5" y1="412.7" x2="453.5" y2="412.7" stroke="#000" stroke-width="1"/>
<rect x="433.6" y="427.1" width="11.6" height="10.8" fill="#660066" stroke="#000" stroke-width="0.8"/>
<text x="447.5" y="435.7" font-size="9.2" text-anchor="start" font-weight="normal" font-style="normal" font-family='"Liberation Sans", sans-serif'>e-fake</text>
<rect x="433.6" y="442.5" width="11.6" height="10.8" fill="#ffff00" stroke="#000" stroke-width="0.8"/>
<text x="447.5" y="451.1" font-size="9.2" text-anchor="start" font-weight="normal" font-style="normal" font-family='"Liberation Sans", sans-serif'>W<tspan font-family='"Liberation Serif", serif' font-size="10">γ</tspan></text>
<rect x="433.6" y="457.9" width="11.6" height="10.8" fill="url(#hatch)"/>
<text x="447.5" y="466.5" font-size="9.2" text-anchor="start" font-weight="normal" font-style="normal" font-family='"Liberation Sans", sans-serif'>Uncertainty</text>
<text transform="translate(11.4,1.3) scale(1.02,1) rotate(-90)" font-size="13.15" text-anchor="end" font-family='"Liberation Sans", sans-serif'>Events / 5 GeV</text>
<text transform="translate(11.3,268.2) scale(1.02,1) rotate(-90)" font-size="13.15" text-anchor="end" font-family='"Liberation Sans", sans-serif'>Data / Pred.</text>
<text transform="translate(364.6,1.6) scale(1.02,1) rotate(-90)" font-size="13.15" text-anchor="end" font-family='"Liberation Sans", sans-serif'>Events / 0.20</text>
<text transform="translate(364.5,268.3) scale(1.02,1) rotate(-90)" font-size="13.15" text-anchor="end" font-family='"Liberation Sans", sans-serif'>Data / Pred.</text>
<text transform="translate(185.8,401) scale(1.02,1) rotate(-90)" font-size="13.15" text-anchor="end" font-family='"Liberation Sans", sans-serif'>Events / 0.20</text>
<text transform="translate(185.7,668.2) scale(1.02,1) rotate(-90)" font-size="13.15" text-anchor="end" font-family='"Liberation Sans", sans-serif'>Data / Pred.</text>
<text x="271" y="364" font-size="13" text-anchor="start" font-weight="normal" font-style="normal" font-family='"Liberation Sans", sans-serif'>p</text>
<text x="278" y="369.5" font-size="8.5" text-anchor="start" font-weight="normal" font-style="normal" font-family='"Liberation Sans", sans-serif'>T</text>
<text x="283.5" y="364" font-size="13" text-anchor="start" font-weight="normal" font-style="normal" font-family='"Liberation Sans", sans-serif'>(<tspan font-family='"Liberation Serif", serif' font-size="14">γ</tspan>) [GeV]</text>
<text x="684.2" y="363.2" font-size="13" text-anchor="end" font-weight="normal" font-style="normal" font-family='"Liberation Sans", sans-serif'>|<tspan font-family='"Liberation Serif", serif' font-size="14">η</tspan>(<tspan font-family='"Liberation Serif", serif' font-size="14">γ</tspan>)|</text>
<text x="507.3" y="763.5" font-size="13" text-anchor="end" font-weight="normal" font-style="normal" font-family='"Liberation Sans", sans-serif'>ΔR(<tspan font-family='"Liberation Serif", serif' font-size="14">γ</tspan>,l)</text>
<text x="181.6" y="376.3" font-size="15.2" text-anchor="middle" font-weight="bold" font-style="normal" font-family='"Liberation Serif", serif' letter-spacing="0.6">(a)</text>
<text x="535.4" y="376.3" font-size="15.2" text-anchor="middle" font-weight="bold" font-style="normal" font-family='"Liberation Serif", serif' letter-spacing="0.6">(b)</text>
<text x="361.6" y="771.3" font-size="15.2" text-anchor="middle" font-weight="bold" font-style="normal" font-family='"Liberation Serif", serif' letter-spacing="0.6">(c)</text>
</svg>
</body></html>
